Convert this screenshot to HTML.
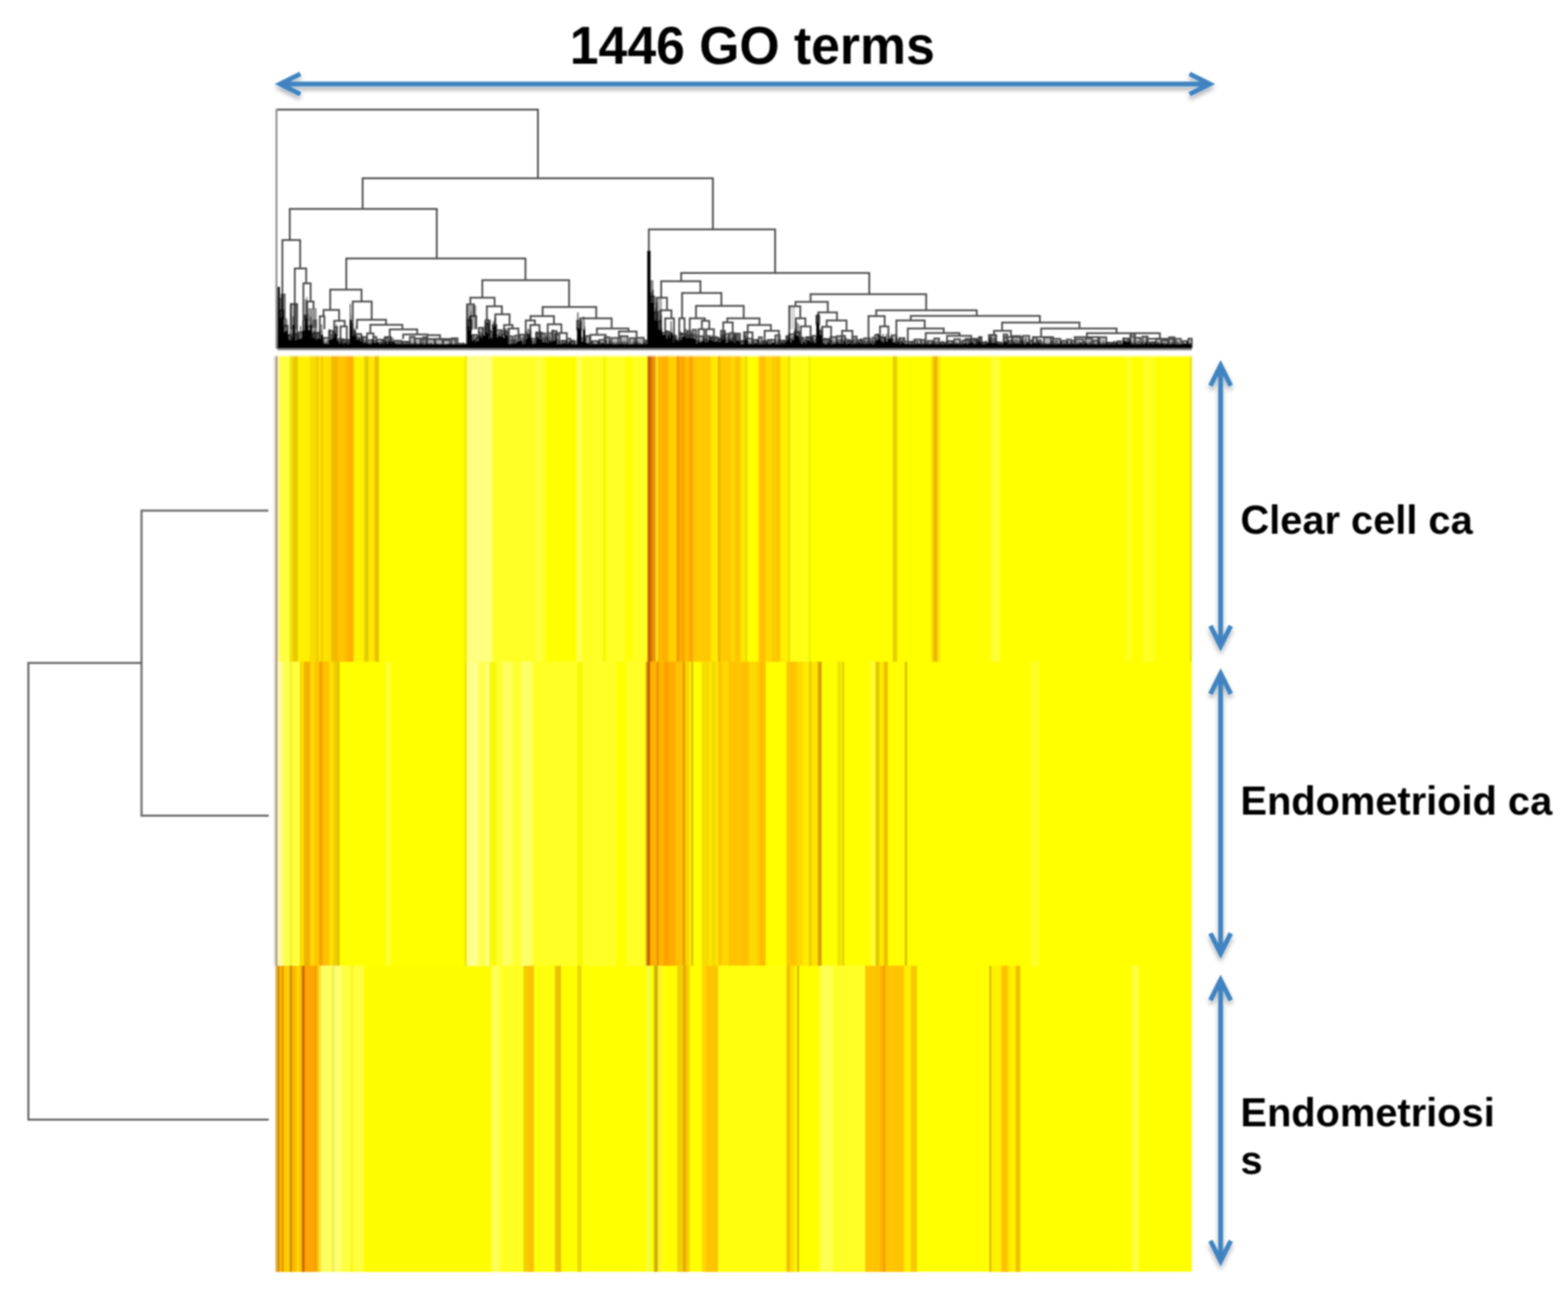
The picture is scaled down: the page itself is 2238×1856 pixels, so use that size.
<!DOCTYPE html>
<html lang="en"><head><meta charset="utf-8"><title>1446 GO terms heatmap</title>
<style>
html,body{margin:0;padding:0;background:#fff;}
body{width:2238px;height:1856px;overflow:hidden;position:relative;font-family:"Liberation Sans",sans-serif;}
svg{position:absolute;left:0;top:0;display:block;}
.t{font-family:"Liberation Sans",sans-serif;font-weight:bold;fill:#000;}
</style></head><body>
<svg width="2238" height="1856" viewBox="0 0 2238 1856">
<defs>
<filter id="sh" x="0" y="0" width="2238" height="1856" filterUnits="userSpaceOnUse">
<feGaussianBlur in="SourceGraphic" stdDeviation="0.9" result="g"/>
<feGaussianBlur in="SourceAlpha" stdDeviation="3.5"/><feOffset dx="0" dy="5"/>
<feComponentTransfer><feFuncA type="linear" slope="0.32"/></feComponentTransfer>
<feMerge><feMergeNode/><feMergeNode in="g"/></feMerge></filter>
<filter id="bl" x="0" y="0" width="2238" height="1856" filterUnits="userSpaceOnUse"><feGaussianBlur stdDeviation="0.9"/></filter>
<filter id="hb" x="380" y="495" width="1335" height="1335" filterUnits="userSpaceOnUse"><feGaussianBlur stdDeviation="0.9 1.3"/></filter>
<filter id="tb" x="0" y="0" width="2238" height="1856" filterUnits="userSpaceOnUse"><feGaussianBlur stdDeviation="0.8"/></filter>
</defs>

<g filter="url(#hb)">
<rect x="395.2" y="507.3" width="1305.8" height="1308.3" fill="#FFFF00"/>
<rect x="393.2" y="507.3" width="3.2" height="437.6" fill="#A89070"/>
<rect x="396.0" y="507.3" width="3.8" height="437.6" fill="#FFF0A0"/>
<rect x="399.4" y="507.3" width="14.6" height="437.6" fill="#FFFF40"/>
<rect x="413.6" y="507.3" width="5.1" height="437.6" fill="#F0E000"/>
<rect x="418.3" y="507.3" width="7.5" height="437.6" fill="#E8C800"/>
<rect x="425.4" y="507.3" width="16.9" height="437.6" fill="#FFF000"/>
<rect x="441.9" y="507.3" width="9.8" height="437.6" fill="#F8DC00"/>
<rect x="451.3" y="507.3" width="4.3" height="437.6" fill="#F0C800"/>
<rect x="455.2" y="507.3" width="2.8" height="437.6" fill="#FFE800"/>
<rect x="457.6" y="507.3" width="3.5" height="437.6" fill="#F5C800"/>
<rect x="460.7" y="507.3" width="12.2" height="437.6" fill="#FFE000"/>
<rect x="472.5" y="507.3" width="7.5" height="437.6" fill="#F0BC00"/>
<rect x="479.6" y="507.3" width="2.7" height="437.6" fill="#F8B000"/>
<rect x="481.9" y="507.3" width="10.6" height="437.6" fill="#FFC400"/>
<rect x="492.1" y="507.3" width="5.2" height="437.6" fill="#FFB800"/>
<rect x="496.9" y="507.3" width="8.2" height="437.6" fill="#FFB000"/>
<rect x="504.7" y="507.3" width="15.3" height="437.6" fill="#FFF400"/>
<rect x="519.6" y="507.3" width="3.6" height="437.6" fill="#E8D000"/>
<rect x="522.8" y="507.3" width="3.5" height="437.6" fill="#E0CC00"/>
<rect x="525.9" y="507.3" width="9.1" height="437.6" fill="#FFE800"/>
<rect x="534.6" y="507.3" width="6.3" height="437.6" fill="#E8C000"/>
<rect x="662.6" y="507.3" width="4.4" height="437.6" fill="#F0F000"/>
<rect x="666.6" y="507.3" width="34.9" height="437.6" fill="#FFFF80"/>
<rect x="701.1" y="507.3" width="4.0" height="437.6" fill="#FFFF50"/>
<rect x="704.7" y="507.3" width="60.1" height="437.6" fill="#FFFF28"/>
<rect x="764.4" y="507.3" width="9.9" height="437.6" fill="#FFFF40"/>
<rect x="773.9" y="507.3" width="5.1" height="437.6" fill="#FFFF28"/>
<rect x="822.6" y="507.3" width="8.2" height="437.6" fill="#FFFF50"/>
<rect x="830.4" y="507.3" width="30.3" height="437.6" fill="#FFFF28"/>
<rect x="860.3" y="507.3" width="5.1" height="437.6" fill="#F8F800"/>
<rect x="865.0" y="507.3" width="27.1" height="437.6" fill="#FFFF28"/>
<rect x="902.7" y="507.3" width="21.6" height="437.6" fill="#FFFF28"/>
<rect x="923.9" y="507.3" width="6.7" height="437.6" fill="#C86400"/>
<rect x="930.2" y="507.3" width="5.9" height="437.6" fill="#E89000"/>
<rect x="935.7" y="507.3" width="3.6" height="437.6" fill="#FFE020"/>
<rect x="938.9" y="507.3" width="6.6" height="437.6" fill="#FFB800"/>
<rect x="945.1" y="507.3" width="9.1" height="437.6" fill="#FFB000"/>
<rect x="953.8" y="507.3" width="12.2" height="437.6" fill="#FFD000"/>
<rect x="965.6" y="507.3" width="4.3" height="437.6" fill="#F09800"/>
<rect x="969.5" y="507.3" width="9.0" height="437.6" fill="#FFA800"/>
<rect x="978.1" y="507.3" width="5.9" height="437.6" fill="#FFC000"/>
<rect x="983.6" y="507.3" width="5.9" height="437.6" fill="#FFA400"/>
<rect x="989.1" y="507.3" width="25.8" height="437.6" fill="#FFC800"/>
<rect x="1014.5" y="507.3" width="10.6" height="437.6" fill="#FFE800"/>
<rect x="1024.7" y="507.3" width="3.8" height="437.6" fill="#E8B000"/>
<rect x="1028.1" y="507.3" width="15.3" height="437.6" fill="#FFC800"/>
<rect x="1043.0" y="507.3" width="5.9" height="437.6" fill="#FFD800"/>
<rect x="1048.5" y="507.3" width="9.0" height="437.6" fill="#FFC400"/>
<rect x="1057.1" y="507.3" width="6.7" height="437.6" fill="#FFE800"/>
<rect x="1063.4" y="507.3" width="3.6" height="437.6" fill="#E8E000"/>
<rect x="1081.5" y="507.3" width="2.8" height="437.6" fill="#FFE000"/>
<rect x="1083.9" y="507.3" width="9.0" height="437.6" fill="#FFC000"/>
<rect x="1092.5" y="507.3" width="9.8" height="437.6" fill="#FFD800"/>
<rect x="1101.9" y="507.3" width="5.9" height="437.6" fill="#F8CC00"/>
<rect x="1107.4" y="507.3" width="6.7" height="437.6" fill="#FFC400"/>
<rect x="1113.7" y="507.3" width="11.4" height="437.6" fill="#FFF000"/>
<rect x="1124.7" y="507.3" width="3.6" height="437.6" fill="#E8E000"/>
<rect x="1127.9" y="507.3" width="25.5" height="437.6" fill="#FFFF18"/>
<rect x="1153.0" y="507.3" width="5.1" height="437.6" fill="#F0F800"/>
<rect x="1274.0" y="507.3" width="6.7" height="437.6" fill="#E8D000"/>
<rect x="1329.4" y="507.3" width="3.6" height="437.6" fill="#F8D800"/>
<rect x="1332.6" y="507.3" width="5.8" height="437.6" fill="#E8B800"/>
<rect x="1338.0" y="507.3" width="3.6" height="437.6" fill="#FFE000"/>
<rect x="1414.3" y="507.3" width="13.0" height="437.6" fill="#FFFF30"/>
<rect x="1607.6" y="507.3" width="6.3" height="437.6" fill="#FFFF28"/>
<rect x="1631.0" y="507.3" width="17.4" height="437.6" fill="#FFFF24"/>
<rect x="1698.0" y="507.3" width="3.4" height="437.6" fill="#E4E418"/>
<rect x="393.2" y="944.6" width="3.2" height="434.4" fill="#A89070"/>
<rect x="396.0" y="944.6" width="7.0" height="434.4" fill="#FFF8B0"/>
<rect x="402.6" y="944.6" width="11.4" height="434.4" fill="#FFFF50"/>
<rect x="413.6" y="944.6" width="3.5" height="434.4" fill="#F0F020"/>
<rect x="416.7" y="944.6" width="11.4" height="434.4" fill="#FFFF40"/>
<rect x="427.7" y="944.6" width="6.7" height="434.4" fill="#F8DC00"/>
<rect x="434.0" y="944.6" width="9.0" height="434.4" fill="#F0B000"/>
<rect x="442.6" y="944.6" width="6.7" height="434.4" fill="#FFD800"/>
<rect x="448.9" y="944.6" width="6.7" height="434.4" fill="#FFC400"/>
<rect x="455.2" y="944.6" width="5.9" height="434.4" fill="#F4A400"/>
<rect x="460.7" y="944.6" width="9.8" height="434.4" fill="#FFC000"/>
<rect x="470.1" y="944.6" width="5.9" height="434.4" fill="#FFE400"/>
<rect x="475.6" y="944.6" width="5.9" height="434.4" fill="#F0CC00"/>
<rect x="481.1" y="944.6" width="3.6" height="434.4" fill="#E0C000"/>
<rect x="550.3" y="944.6" width="6.7" height="434.4" fill="#FFFF30"/>
<rect x="662.6" y="944.6" width="4.4" height="434.4" fill="#F0E800"/>
<rect x="666.6" y="944.6" width="16.1" height="434.4" fill="#FFFF90"/>
<rect x="682.3" y="944.6" width="11.4" height="434.4" fill="#FFFF50"/>
<rect x="693.3" y="944.6" width="5.1" height="434.4" fill="#FFFF80"/>
<rect x="698.0" y="944.6" width="5.1" height="434.4" fill="#F8F820"/>
<rect x="702.7" y="944.6" width="6.3" height="434.4" fill="#F8F800"/>
<rect x="708.6" y="944.6" width="9.1" height="434.4" fill="#FFFF30"/>
<rect x="717.3" y="944.6" width="14.5" height="434.4" fill="#FFFF60"/>
<rect x="731.4" y="944.6" width="13.0" height="434.4" fill="#FFFF30"/>
<rect x="744.0" y="944.6" width="16.1" height="434.4" fill="#FFFF68"/>
<rect x="759.7" y="944.6" width="64.8" height="434.4" fill="#FFFF28"/>
<rect x="824.1" y="944.6" width="8.3" height="434.4" fill="#F8F800"/>
<rect x="832.0" y="944.6" width="47.5" height="434.4" fill="#FFFF28"/>
<rect x="893.3" y="944.6" width="28.7" height="434.4" fill="#FFFF28"/>
<rect x="921.6" y="944.6" width="2.7" height="434.4" fill="#E0A000"/>
<rect x="923.9" y="944.6" width="4.4" height="434.4" fill="#C06000"/>
<rect x="927.9" y="944.6" width="9.8" height="434.4" fill="#FFB000"/>
<rect x="937.3" y="944.6" width="3.5" height="434.4" fill="#E89000"/>
<rect x="940.4" y="944.6" width="7.5" height="434.4" fill="#FFB400"/>
<rect x="947.5" y="944.6" width="7.5" height="434.4" fill="#FFA000"/>
<rect x="954.6" y="944.6" width="9.8" height="434.4" fill="#FFAC00"/>
<rect x="964.0" y="944.6" width="10.6" height="434.4" fill="#FFC000"/>
<rect x="974.2" y="944.6" width="4.3" height="434.4" fill="#E0A000"/>
<rect x="978.1" y="944.6" width="5.2" height="434.4" fill="#FFD000"/>
<rect x="982.9" y="944.6" width="4.3" height="434.4" fill="#FFE800"/>
<rect x="986.8" y="944.6" width="2.7" height="434.4" fill="#D8C000"/>
<rect x="1001.7" y="944.6" width="11.4" height="434.4" fill="#F8DC00"/>
<rect x="1012.7" y="944.6" width="3.6" height="434.4" fill="#FFE800"/>
<rect x="1015.9" y="944.6" width="6.3" height="434.4" fill="#F4D800"/>
<rect x="1021.8" y="944.6" width="3.5" height="434.4" fill="#FFE800"/>
<rect x="1024.9" y="944.6" width="5.9" height="434.4" fill="#FFC400"/>
<rect x="1030.4" y="944.6" width="9.9" height="434.4" fill="#FFD800"/>
<rect x="1039.9" y="944.6" width="17.6" height="434.4" fill="#FFC400"/>
<rect x="1057.1" y="944.6" width="12.2" height="434.4" fill="#FFC000"/>
<rect x="1068.9" y="944.6" width="10.6" height="434.4" fill="#FFD800"/>
<rect x="1079.1" y="944.6" width="5.2" height="434.4" fill="#FFD000"/>
<rect x="1083.9" y="944.6" width="9.0" height="434.4" fill="#FFBC00"/>
<rect x="1122.4" y="944.6" width="15.3" height="434.4" fill="#FFC400"/>
<rect x="1137.3" y="944.6" width="9.0" height="434.4" fill="#FFD800"/>
<rect x="1145.9" y="944.6" width="9.1" height="434.4" fill="#FFEC00"/>
<rect x="1154.6" y="944.6" width="4.3" height="434.4" fill="#E8CC00"/>
<rect x="1158.5" y="944.6" width="9.0" height="434.4" fill="#FFE400"/>
<rect x="1167.1" y="944.6" width="5.9" height="434.4" fill="#D8A000"/>
<rect x="1195.4" y="944.6" width="3.6" height="434.4" fill="#E8E000"/>
<rect x="1198.6" y="944.6" width="3.5" height="434.4" fill="#FFE800"/>
<rect x="1201.7" y="944.6" width="3.6" height="434.4" fill="#E0D800"/>
<rect x="1242.6" y="944.6" width="7.4" height="434.4" fill="#FFFF30"/>
<rect x="1249.6" y="944.6" width="5.9" height="434.4" fill="#E0C800"/>
<rect x="1255.1" y="944.6" width="6.7" height="434.4" fill="#FFE800"/>
<rect x="1261.4" y="944.6" width="5.9" height="434.4" fill="#E8C000"/>
<rect x="1291.3" y="944.6" width="3.5" height="434.4" fill="#D8C000"/>
<rect x="1470.9" y="944.6" width="12.9" height="434.4" fill="#FFFF28"/>
<rect x="393.2" y="1378.7" width="3.5" height="437.2" fill="#E0B040"/>
<rect x="396.3" y="1378.7" width="2.7" height="437.2" fill="#C08800"/>
<rect x="398.6" y="1378.7" width="4.4" height="437.2" fill="#FFB000"/>
<rect x="402.6" y="1378.7" width="2.7" height="437.2" fill="#E09000"/>
<rect x="404.9" y="1378.7" width="9.1" height="437.2" fill="#FFCC00"/>
<rect x="413.6" y="1378.7" width="3.5" height="437.2" fill="#C08800"/>
<rect x="416.7" y="1378.7" width="6.7" height="437.2" fill="#FFB800"/>
<rect x="423.0" y="1378.7" width="5.9" height="437.2" fill="#FFD800"/>
<rect x="428.5" y="1378.7" width="3.1" height="437.2" fill="#F0B000"/>
<rect x="431.2" y="1378.7" width="4.0" height="437.2" fill="#C86400"/>
<rect x="434.8" y="1378.7" width="14.5" height="437.2" fill="#FFA400"/>
<rect x="448.9" y="1378.7" width="3.5" height="437.2" fill="#F0A000"/>
<rect x="452.0" y="1378.7" width="3.6" height="437.2" fill="#F8C000"/>
<rect x="455.2" y="1378.7" width="3.6" height="437.2" fill="#FFE040"/>
<rect x="458.4" y="1378.7" width="15.3" height="437.2" fill="#FFFF60"/>
<rect x="473.3" y="1378.7" width="5.1" height="437.2" fill="#F0F060"/>
<rect x="478.0" y="1378.7" width="9.8" height="437.2" fill="#FFFF70"/>
<rect x="487.4" y="1378.7" width="13.0" height="437.2" fill="#FFFF40"/>
<rect x="500.0" y="1378.7" width="5.1" height="437.2" fill="#F8F820"/>
<rect x="504.7" y="1378.7" width="14.6" height="437.2" fill="#FFFF40"/>
<rect x="518.9" y="1378.7" width="182.6" height="437.2" fill="#FDFD00"/>
<rect x="701.1" y="1378.7" width="13.4" height="437.2" fill="#FFFF50"/>
<rect x="714.1" y="1378.7" width="33.4" height="437.2" fill="#FFFF20"/>
<rect x="747.1" y="1378.7" width="6.7" height="437.2" fill="#F0D000"/>
<rect x="753.4" y="1378.7" width="9.1" height="437.2" fill="#FFC000"/>
<rect x="762.1" y="1378.7" width="30.2" height="437.2" fill="#FFFF10"/>
<rect x="791.9" y="1378.7" width="4.4" height="437.2" fill="#E8C800"/>
<rect x="795.9" y="1378.7" width="5.1" height="437.2" fill="#F0C000"/>
<rect x="824.1" y="1378.7" width="5.9" height="437.2" fill="#E8D800"/>
<rect x="923.1" y="1378.7" width="5.2" height="437.2" fill="#F0FF40"/>
<rect x="933.4" y="1378.7" width="5.9" height="437.2" fill="#C8B000"/>
<rect x="938.9" y="1378.7" width="5.1" height="437.2" fill="#FFF030"/>
<rect x="966.4" y="1378.7" width="9.0" height="437.2" fill="#F0D000"/>
<rect x="975.0" y="1378.7" width="4.3" height="437.2" fill="#E0A800"/>
<rect x="978.9" y="1378.7" width="5.1" height="437.2" fill="#FFC800"/>
<rect x="1001.7" y="1378.7" width="5.9" height="437.2" fill="#FFD800"/>
<rect x="1007.2" y="1378.7" width="18.1" height="437.2" fill="#FFC400"/>
<rect x="1024.9" y="1378.7" width="97.9" height="437.2" fill="#FFFF10"/>
<rect x="1122.4" y="1378.7" width="5.9" height="437.2" fill="#F0C000"/>
<rect x="1127.9" y="1378.7" width="6.6" height="437.2" fill="#FFE000"/>
<rect x="1137.3" y="1378.7" width="3.5" height="437.2" fill="#D8C000"/>
<rect x="1170.3" y="1378.7" width="19.2" height="437.2" fill="#FFFF50"/>
<rect x="1189.1" y="1378.7" width="46.0" height="437.2" fill="#FFFF28"/>
<rect x="1234.7" y="1378.7" width="21.6" height="437.2" fill="#FFC400"/>
<rect x="1255.9" y="1378.7" width="5.1" height="437.2" fill="#FFB000"/>
<rect x="1260.6" y="1378.7" width="3.6" height="437.2" fill="#F0A000"/>
<rect x="1263.8" y="1378.7" width="27.1" height="437.2" fill="#FFC400"/>
<rect x="1290.5" y="1378.7" width="9.8" height="437.2" fill="#FFF000"/>
<rect x="1299.9" y="1378.7" width="9.1" height="437.2" fill="#F8C800"/>
<rect x="1411.9" y="1378.7" width="3.6" height="437.2" fill="#D8C000"/>
<rect x="1415.1" y="1378.7" width="14.5" height="437.2" fill="#FFF000"/>
<rect x="1429.2" y="1378.7" width="9.1" height="437.2" fill="#FFC000"/>
<rect x="1437.9" y="1378.7" width="4.3" height="437.2" fill="#FFE000"/>
<rect x="1441.8" y="1378.7" width="8.2" height="437.2" fill="#FFF000"/>
<rect x="1449.6" y="1378.7" width="6.7" height="437.2" fill="#F0C000"/>
<rect x="1615.4" y="1378.7" width="9.9" height="437.2" fill="#FFFF40"/>
<rect x="390.3" y="509.3" width="3" height="869.4" fill="#E9E3DD"/>
<rect x="393.0" y="508.8" width="2.4" height="869.9" fill="#A89880" fill-opacity="0.75"/>
<rect x="393.2" y="506.8" width="1307.8" height="2.2" fill="#fff" fill-opacity="0.6"/>
</g>
<g filter="url(#bl)">
<path d="M399.4 455.3V442.9H404.7V455.3M404.7 477.3V464.8H410.6V477.3M411.0 487.8V478.7H417.2V487.8M420.4 487.8V477.0H425.6V487.8M425.6 484.7V474.4H431.9V484.7M435.0 458.5V450.1H439.2V458.5M445.5 486.8V475.1H456.1V486.8M461.2 495.1V482.4H469.6V495.1M469.6 486.8V472.3H475.6V486.8M477.0 481.5V466.9H481.1V481.5M481.1 493.0V484.0H486.1V493.0M488.9 493.0V485.0H498.0V493.0M502.1 481.5V472.8H507.0V481.5M508.4 489.9V476.7H515.5V489.9M517.8 495.1V481.2H522.9V495.1M523.4 495.1V485.6H531.4V495.1M532.9 495.1V480.9H537.2V495.1M537.7 495.1V484.8H547.1V495.1M549.2 493.0V481.2H557.7V493.0M562.9 496.2V486.4H573.3V496.2M574.6 496.2V487.9H584.8V496.2M584.9 497.8V481.0H591.8V497.8M592.3 497.8V483.2H600.9V497.8M603.8 497.8V481.3H607.8V497.8M610.0 497.8V484.1H620.0V497.8M621.7 497.8V484.0H631.5V497.8M632.9 497.8V485.7H642.0V497.8M644.8 497.8V482.8H653.1V497.8M653.8 497.8V490.7H661.2V497.8M666.6 472.1V456.7H672.9V472.1M672.9 489.9V478.1H680.6V489.9M683.3 484.7V467.9H688.8V484.7M692.8 477.3V462.0H697.0V477.3M697.0 486.8V473.3H703.2V486.8M703.2 471.0V463.9H708.5V471.0M708.5 485.7V471.3H716.5V485.7M721.0 483.6V473.6H725.2V483.6M725.2 493.0V480.1H731.8V493.0M734.9 493.0V479.2H742.0V493.0M742.2 493.0V477.6H748.1V493.0M750.4 484.7V477.5H754.8V484.7M758.8 495.1V483.6H763.5V495.1M765.0 486.8V475.0H773.4V486.8M773.4 491.0V476.0H777.6V491.0M780.7 491.0V475.6H788.1V491.0M788.1 487.8V472.3H794.4V487.8M794.4 494.1V478.2H798.5V494.1M802.5 494.1V486.4H807.9V494.1M809.2 494.1V483.4H813.9V494.1M814.3 494.1V487.1H819.8V494.1M823.7 472.1V457.8H829.8V472.1M836.3 496.2V479.7H841.4V496.2M845.0 496.2V487.0H853.9V496.2M855.5 496.2V485.1H862.6V496.2M862.7 496.2V481.5H869.9V496.2M872.7 496.2V482.4H882.7V496.2M885.8 496.2V480.0H895.9V496.2M899.0 496.2V482.6H905.9V496.2M908.6 496.2V482.1H918.8V496.2M920.5 496.2V485.9H923.8V496.2M928.5 437.5V422.8H933.7V437.5M933.7 460.6V445.2H939.0V460.6M939.0 472.1V459.0H943.6V472.1M945.2 484.7V474.8H950.2V484.7M950.3 484.7V473.4H955.3V484.7M959.9 491.0V478.5H963.9V491.0M970.4 486.8V476.5H976.7V486.8M976.7 485.7V477.2H981.2V485.7M981.2 485.7V472.7H985.7V485.7M988.7 485.7V470.7H993.4V485.7M993.4 493.0V480.0H1003.9V493.0M1008.1 491.0V479.7H1013.3V491.0M1015.0 491.0V481.7H1024.8V491.0M1026.0 491.0V483.2H1029.0V491.0M1029.0 485.7V472.1H1034.6V485.7M1035.3 491.0V476.6H1040.0V491.0M1041.6 491.0V475.4H1047.9V491.0M1050.0 489.9V476.1H1056.2V489.9M1056.3 495.1V487.3H1062.6V495.1M1062.6 487.8V474.4H1066.8V487.8M1066.8 495.1V483.4H1074.4V495.1M1076.1 495.1V485.4H1081.2V495.1M1083.0 495.1V481.4H1087.5V495.1M1088.5 495.1V487.2H1094.5V495.1M1095.7 495.1V485.2H1106.2V495.1M1106.6 495.1V478.7H1113.0V495.1M1113.4 495.1V486.1H1119.8V495.1M1122.3 487.8V479.8H1127.5V487.8M1127.5 491.0V477.1H1133.8V491.0M1133.8 481.5V473.9H1141.1V481.5M1141.1 492.0V482.4H1147.1V492.0M1150.4 492.0V481.5H1157.9V492.0M1160.0 492.0V479.3H1165.2V492.0M1165.2 463.7V450.6H1169.4V463.7M1169.4 481.5V473.2H1173.6V481.5M1173.6 494.1V484.0H1183.8V494.1M1185.2 494.1V481.2H1193.5V494.1M1194.2 494.1V479.8H1201.3V494.1M1201.4 494.1V479.5H1206.2V494.1M1209.8 494.1V486.3H1214.3V494.1M1216.8 494.1V480.5H1222.8V494.1M1222.9 494.1V485.5H1230.1V494.1M1233.3 495.1V483.0H1242.2V495.1M1245.6 495.1V481.9H1249.0V495.1M1249.0 489.9V478.2H1254.3V489.9M1255.6 489.9V481.8H1263.9V489.9M1273.1 493.6V478.7H1279.7V493.6M1283.5 493.6V482.7H1291.0V493.6M1291.0 496.2V487.9H1301.9V496.2M1304.9 496.2V484.6H1314.0V496.2M1315.1 496.2V485.1H1320.3V496.2M1324.1 496.2V486.6H1330.9V496.2M1333.4 496.2V483.1H1340.4V496.2M1342.2 496.2V488.8H1348.2V496.2M1351.5 496.2V486.8H1360.1V496.2M1362.1 496.2V484.2H1370.2V496.2M1373.8 496.2V486.1H1383.2V496.2M1385.2 493.0V484.4H1393.5V493.0M1397.3 493.0V481.1H1401.0V493.0M1401.0 496.2V488.7H1408.6V496.2M1411.4 493.0V478.2H1421.9V493.0M1421.9 496.2V488.9H1429.1V496.2M1432.4 494.1V477.3H1437.7V494.1M1439.0 494.1V486.4H1444.7V494.1M1445.1 494.1V479.7H1456.1V494.1M1459.8 494.1V479.3H1469.0V494.1M1469.0 495.7V486.0H1474.2V495.7M1474.5 495.7V481.5H1479.7V495.7M1481.7 495.7V485.6H1485.8V495.7M1490.0 496.2V481.9H1500.0V496.2M1502.9 496.2V483.6H1513.3V496.2M1514.8 496.2V486.4H1522.8V496.2M1523.0 496.2V484.6H1528.8V496.2M1529.3 496.2V486.7H1533.8V496.2M1535.3 496.2V484.3H1546.0V496.2M1549.3 496.2V483.3H1558.6V496.2M1559.8 496.2V486.0H1566.6V496.2M1569.1 496.2V481.3H1579.1V496.2M1580.3 496.2V489.1H1585.3V496.2M1587.7 496.2V489.1H1593.3V496.2M1594.5 496.2V487.1H1600.1V496.2M1603.1 493.0V483.2H1611.2V493.0M1613.6 496.2V480.0H1619.1V496.2M1619.5 496.2V482.1H1627.7V496.2M1630.6 496.2V480.5H1638.0V496.2M1640.5 496.2V488.4H1649.4V496.2M1650.1 496.2V483.7H1657.4V496.2M1657.6 496.7V486.2H1666.8V496.7M1668.7 496.7V481.3H1676.4V496.7M1677.6 496.7V483.7H1685.5V496.7M1688.1 496.7V486.9H1694.3V496.7M1696.2 496.7V483.3H1701.1V496.7" fill="#000" fill-opacity="0.3" stroke="#4a4a4a" stroke-width="2.3"/>
<path d="M394.8 156.6V156.6H767.8V254.5M517.6 298.2V254.5H1017.5V327.4M413.6 342.8V298.2H623.4V368.9M403.0 497.6V342.8H428.4V383.2M420.8 497.6V383.2H437.0V404.4M433.0 497.6V404.4H443.3V430.0M438.5 497.6V430.5H447.5V441.0M415.0 497.6V434.0H424.0V497.6M494.2 413.5V368.9H750.0V398.7M471.3 442.6V413.5H516.0V430.5M461.8 452.0V442.6H484.0V458.0M456.5 497.6V451.5H463.0V470.0M477.0 470.0V458.0H492.0V466.0M486.0 497.6V466.0H495.0V497.6M503.5 497.6V430.5H530.5V456.4M509.5 470.0V456.4H551.0V463.8M528.6 476.0V463.8H574.3V470.2M556.3 482.0V470.2H595.5V477.6M575.4 484.0V477.6H610.0V484.0M524.0 497.6V476.0H533.0V497.6M550.0 497.6V481.5H558.0V497.6M600.0 497.6V484.0H650.0V497.6M610.0 484.0V478.5H628.0V486.0M688.4 425.1V400.0H812.2V438.2M671.3 434.6V425.1H705.9V437.2M666.6 497.6V434.6H676.5V451.3M671.3 497.6V451.3H679.7V470.0M694.9 457.6V437.2H716.3V448.7M692.8 497.6V457.6H699.0V497.6M706.9 470.0V448.7H727.3V463.9M719.5 480.0V463.9H731.5V469.1M726.3 484.0V469.1H739.9V484.0M774.5 451.3V438.2H851.0V454.5M757.2 457.6V451.3H790.7V462.9M750.4 497.6V457.6H763.5V464.0M757.0 497.6V464.0H770.0V497.6M781.8 497.6V462.9H801.2V475.4M793.3 497.6V475.4H809.0V497.6M828.0 497.6V454.5H873.0V469.1M852.0 478.0V469.1H897.0V473.3M842.6 497.6V478.0H864.6V497.6M883.4 484.0V473.3H908.6V497.6M926.1 497.6V327.4H1106.3V389.7M972.2 401.6V389.7H1240.7V419.9M943.7 425.1V401.6H999.7V418.3M936.9 497.6V425.1H952.0V443.0M942.6 497.6V443.0H958.3V454.5M949.4 497.6V454.5H962.0V497.6M973.5 454.5V418.3H1029.6V436.7M969.5 497.6V454.5H977.0V497.6M993.4 454.5V436.7H1061.5V454.5M984.5 497.6V454.5H1006.0V458.0M1001.8 470.0V458.0H1012.3V470.0M997.0 497.6V470.0H1005.0V497.6M1008.0 497.6V470.0H1019.0V497.6M1038.0 460.2V454.5H1084.0V463.9M1032.2 497.6V460.2H1045.8V497.6M1067.3 474.4V463.9H1100.3V472.3M1062.0 497.6V474.4H1074.0V497.6M1091.4 497.6V472.3H1111.8V497.6M1156.9 430.9V419.9H1321.9V443.0M1135.4 437.2V430.9H1181.5V446.1M1126.5 497.6V437.2H1142.2V454.5M1135.9 497.6V454.5H1149.5V466.0M1143.0 497.6V466.0H1157.0V497.6M1167.9 497.6V446.1H1194.6V457.6M1179.9 466.5V457.6H1208.2V472.3M1173.6 497.6V466.5H1186.2V497.6M1201.9 497.6V472.3H1216.6V497.6M1250.6 451.3V443.0H1394.1V451.0M1239.6 497.6V451.3H1262.7V466.0M1256.0 497.6V466.0H1268.0V497.6M1299.9 457.6V451.0H1484.2V460.4M1279.4 497.6V457.6H1319.8V469.1M1295.7 497.6V469.1H1347.0V475.4M1321.3 497.6V475.4H1369.5V479.6M1351.7 497.6V479.6H1386.3V483.8M1377.9 497.6V483.8H1395.7V497.6M1430.3 472.3V460.4H1540.8V469.1M1418.8 478.6V472.3H1442.9V481.2M1413.5 497.6V478.6H1421.9V497.6M1433.4 497.6V481.2H1458.6V497.6M1486.0 481.2V469.1H1593.7V475.4M1474.3 497.6V481.2H1503.0V497.6M1551.3 481.2V475.8H1655.5V483.8M1534.0 497.6V481.2H1567.5V497.6M1613.6 497.6V476.5H1620.0V497.6M1636.7 497.6V483.8H1674.4V497.6" fill="none" stroke="#484848" stroke-width="2.5" stroke-linejoin="miter"/>
<path d="M394.6 155.4V497.6" fill="none" stroke="#8c8c8c" stroke-width="2.6"/>
<rect x="400.5" y="419" width="7.3" height="49.0" fill="#000" fill-opacity="0.55"/>
<rect x="414" y="434" width="10.6" height="36.0" fill="#000" fill-opacity="0.3"/>
<rect x="440" y="440" width="12.0" height="28.0" fill="#000" fill-opacity="0.42"/>
<rect x="446.6" y="456" width="6.2" height="30.0" fill="#000" fill-opacity="0.45"/>
<rect x="928" y="400" width="4.7" height="34.0" fill="#000" fill-opacity="0.45"/>
<rect x="666" y="436" width="14.0" height="34.0" fill="#000" fill-opacity="0.35"/>
<rect x="694" y="458" width="6.0" height="22.0" fill="#000" fill-opacity="0.4"/>
<rect x="937" y="426" width="8.0" height="34.0" fill="#000" fill-opacity="0.3"/>
<rect x="1126" y="438" width="9.0" height="32.0" fill="#000" fill-opacity="0.15"/>
<polygon points="395.8,497.6 399.4,497.6 399.4,424.9 401.5,424.9 401.5,497.6 402.0,497.6 402.0,419.5 404.0,419.5 404.0,497.6 404.5,497.6 404.5,421.1 404.6,421.1 404.6,497.6 404.7,497.6 404.7,467.9 406.7,467.9 406.7,497.6 407.2,497.6 407.2,454.0 409.3,454.0 409.3,497.6 409.8,497.6 409.8,456.2 410.7,456.2 410.7,497.6 411.0,497.6 411.0,477.1 413.0,477.1 413.0,497.6 413.5,497.6 413.5,475.5 415.5,475.5 415.5,497.6 416.1,497.6 416.1,481.0 417.0,481.0 417.0,497.6 417.2,497.6 417.2,451.8 419.3,451.8 419.3,497.6 419.8,497.6 419.8,444.6 420.3,444.6 420.3,497.6 420.4,497.6 420.4,474.7 422.4,474.7 422.4,497.6 422.9,497.6 422.9,476.2 425.0,476.2 425.0,497.6 425.5,497.6 425.5,479.1 425.6,479.1 425.6,497.6 425.6,497.6 425.6,475.4 427.7,475.4 427.7,497.6 428.2,497.6 428.2,465.5 430.2,465.5 430.2,497.6 430.7,497.6 430.7,472.3 431.7,472.3 431.7,497.6 431.9,497.6 431.9,456.7 433.9,456.7 433.9,497.6 434.5,497.6 434.5,461.2 434.9,461.2 434.9,497.6 435.0,497.6 435.0,427.2 437.1,427.2 437.1,497.6 437.6,497.6 437.6,424.0 438.9,424.0 438.9,497.6 439.2,497.6 439.2,463.9 441.3,463.9 441.3,497.6 441.8,497.6 441.8,467.4 442.3,467.4 442.3,497.6 442.4,497.6 442.4,452.3 444.4,452.3 444.4,497.6 444.9,497.6 444.9,458.0 445.4,458.0 445.4,497.6 445.5,497.6 445.5,476.6 447.6,476.6 447.6,497.6 448.1,497.6 448.1,471.8 450.1,471.8 450.1,497.6 450.6,497.6 450.6,476.3 452.7,476.3 452.7,497.6 453.2,497.6 453.2,474.1 455.2,474.1 455.2,497.6 455.7,497.6 455.7,471.8 457.6,471.8 457.6,497.6 458.1,497.6 458.1,462.9 460.1,462.9 460.1,497.6 460.6,497.6 460.6,471.9 461.1,471.9 461.1,497.6 461.2,497.6 461.2,487.0 463.3,487.0 463.3,497.6 463.8,497.6 463.8,490.0 465.8,490.0 465.8,497.6 466.3,497.6 466.3,486.6 468.4,486.6 468.4,497.6 468.9,497.6 468.9,487.1 469.5,487.1 469.5,497.6 469.6,497.6 469.6,469.4 471.7,469.4 471.7,497.6 472.2,497.6 472.2,476.4 474.2,476.4 474.2,497.6 474.7,497.6 474.7,473.5 476.5,473.5 476.5,497.6 477.0,497.6 477.0,471.0 479.0,471.0 479.0,497.6 479.5,497.6 479.5,462.3 480.8,462.3 480.8,497.6 481.1,497.6 481.1,484.7 483.2,484.7 483.2,497.6 483.7,497.6 483.7,486.3 485.7,486.3 485.7,497.6 486.2,497.6 486.2,481.9 488.3,481.9 488.3,497.6 488.8,497.6 488.8,483.2 490.8,483.2 490.8,497.6 491.3,497.6 491.3,484.0 493.4,484.0 493.4,497.6 493.9,497.6 493.9,485.6 495.9,485.6 495.9,497.6 496.4,497.6 496.4,486.9 498.4,486.9 498.4,497.6 499.0,497.6 499.0,433.7 501.0,433.7 501.0,497.6 501.5,497.6 501.5,448.9 502.0,448.9 502.0,497.6 502.1,497.6 502.1,461.0 504.1,461.0 504.1,497.6 504.6,497.6 504.6,468.9 506.7,468.9 506.7,497.6 507.2,497.6 507.2,464.9 508.1,464.9 508.1,497.6 508.4,497.6 508.4,479.7 510.4,479.7 510.4,497.6 510.9,497.6 510.9,481.0 513.0,481.0 513.0,497.6 513.5,497.6 513.5,482.4 515.5,482.4 515.5,497.6 516.0,497.6 516.0,477.9 517.5,477.9 517.5,497.6 517.8,497.6 517.8,484.5 519.8,484.5 519.8,497.6 520.4,497.6 520.4,485.4 522.4,485.4 522.4,497.6 522.9,497.6 522.9,488.5 524.9,488.5 524.9,497.6 525.5,497.6 525.5,487.1 527.5,487.1 527.5,497.6 528.0,497.6 528.0,487.7 530.0,487.7 530.0,497.6 530.6,497.6 530.6,483.7 532.6,483.7 532.6,497.6 533.1,497.6 533.1,485.0 535.1,485.0 535.1,497.6 535.7,497.6 535.7,486.1 537.7,486.1 537.7,497.6 538.2,497.6 538.2,487.4 540.2,487.4 540.2,497.6 540.8,497.6 540.8,488.2 542.8,488.2 542.8,497.6 543.3,497.6 543.3,485.7 545.3,485.7 545.3,497.6 545.9,497.6 545.9,484.6 547.9,484.6 547.9,497.6 548.4,497.6 548.4,487.2 549.1,487.2 549.1,497.6 549.2,497.6 549.2,486.5 551.3,486.5 551.3,497.6 551.8,497.6 551.8,481.1 553.8,481.1 553.8,497.6 554.3,497.6 554.3,483.6 556.4,483.6 556.4,497.6 556.9,497.6 556.9,481.7 558.9,481.7 558.9,497.6 559.4,497.6 559.4,482.1 561.5,482.1 561.5,497.6 562.0,497.6 562.0,483.8 562.7,483.8 562.7,497.6 562.9,497.6 562.9,489.0 564.9,489.0 564.9,497.6 565.4,497.6 565.4,486.8 567.4,486.8 567.4,497.6 568.0,497.6 568.0,487.6 570.0,487.6 570.0,497.6 570.5,497.6 570.5,487.5 572.5,487.5 572.5,497.6 573.1,497.6 573.1,489.7 575.1,489.7 575.1,497.6 575.6,497.6 575.6,488.5 577.6,488.5 577.6,497.6 578.2,497.6 578.2,487.4 580.2,487.4 580.2,497.6 580.7,497.6 580.7,486.9 582.7,486.9 582.7,497.6 583.3,497.6 583.3,488.3 584.5,488.3 584.5,497.6 584.9,497.6 584.9,489.0 586.9,489.0 586.9,497.6 587.4,497.6 587.4,489.8 589.4,489.8 589.4,497.6 590.0,497.6 590.0,489.1 592.0,489.1 592.0,497.6 592.5,497.6 592.5,488.1 594.5,488.1 594.5,497.6 595.1,497.6 595.1,490.4 597.1,490.4 597.1,497.6 597.6,497.6 597.6,490.3 599.6,490.3 599.6,497.6 600.2,497.6 600.2,489.6 602.2,489.6 602.2,497.6 602.7,497.6 602.7,489.4 604.7,489.4 604.7,497.6 605.3,497.6 605.3,491.0 607.3,491.0 607.3,497.6 607.8,497.6 607.8,489.6 609.6,489.6 609.6,497.6 610.0,497.6 610.0,490.4 612.0,490.4 612.0,497.6 612.5,497.6 612.5,489.4 614.6,489.4 614.6,497.6 615.1,497.6 615.1,489.6 617.1,489.6 617.1,497.6 617.6,497.6 617.6,492.6 619.7,492.6 619.7,497.6 620.2,497.6 620.2,490.2 622.2,490.2 622.2,497.6 622.7,497.6 622.7,490.6 624.8,490.6 624.8,497.6 625.3,497.6 625.3,491.6 627.3,491.6 627.3,497.6 627.8,497.6 627.8,491.4 629.9,491.4 629.9,497.6 630.4,497.6 630.4,492.7 632.4,492.7 632.4,497.6 632.9,497.6 632.9,491.9 635.0,491.9 635.0,497.6 635.5,497.6 635.5,492.6 637.5,492.6 637.5,497.6 638.0,497.6 638.0,491.0 640.1,491.0 640.1,497.6 640.6,497.6 640.6,490.0 642.6,490.0 642.6,497.6 643.1,497.6 643.1,489.9 645.2,489.9 645.2,497.6 645.7,497.6 645.7,492.0 647.7,492.0 647.7,497.6 648.2,497.6 648.2,491.3 650.3,491.3 650.3,497.6 650.8,497.6 650.8,490.4 652.8,490.4 652.8,497.6 653.3,497.6 653.3,492.2 655.4,492.2 655.4,497.6 655.9,497.6 655.9,491.5 657.9,491.5 657.9,497.6 658.4,497.6 658.4,490.9 660.5,490.9 660.5,497.6 661.0,497.6 661.0,489.0 663.0,489.0 663.0,497.6 663.5,497.6 663.5,490.0 665.6,490.0 665.6,497.6 666.1,497.6 666.1,489.4 666.5,489.4 666.5,497.6 666.6,497.6 666.6,456.7 668.6,456.7 668.6,497.6 669.1,497.6 669.1,451.4 671.2,451.4 671.2,497.6 671.7,497.6 671.7,443.8 672.6,443.8 672.6,497.6 672.9,497.6 672.9,478.8 674.9,478.8 674.9,497.6 675.4,497.6 675.4,477.9 677.4,477.9 677.4,497.6 678.0,497.6 678.0,481.7 680.0,481.7 680.0,497.6 680.5,497.6 680.5,479.4 682.5,479.4 682.5,497.6 683.1,497.6 683.1,477.1 683.3,477.1 683.3,497.6 683.3,497.6 683.3,473.0 685.4,473.0 685.4,497.6 685.9,497.6 685.9,475.0 687.9,475.0 687.9,497.6 688.4,497.6 688.4,467.1 690.5,467.1 690.5,497.6 691.0,497.6 691.0,465.6 692.4,465.6 692.4,497.6 692.8,497.6 692.8,460.2 694.8,460.2 694.8,497.6 695.3,497.6 695.3,453.9 696.6,453.9 696.6,497.6 697.0,497.6 697.0,475.9 699.0,475.9 699.0,497.6 699.5,497.6 699.5,470.3 701.5,470.3 701.5,497.6 702.1,497.6 702.1,476.6 703.0,476.6 703.0,497.6 703.2,497.6 703.2,458.4 705.3,458.4 705.3,497.6 705.8,497.6 705.8,453.5 707.8,453.5 707.8,497.6 708.3,497.6 708.3,445.7 708.4,445.7 708.4,497.6 708.5,497.6 708.5,477.6 710.5,477.6 710.5,497.6 711.0,497.6 711.0,473.9 713.1,473.9 713.1,497.6 713.6,497.6 713.6,471.1 715.6,471.1 715.6,497.6 716.1,497.6 716.1,476.3 718.2,476.3 718.2,497.6 718.7,497.6 718.7,469.0 720.6,469.0 720.6,497.6 721.0,497.6 721.0,468.9 723.1,468.9 723.1,497.6 723.6,497.6 723.6,468.2 724.9,468.2 724.9,497.6 725.2,497.6 725.2,483.6 727.3,483.6 727.3,497.6 727.8,497.6 727.8,483.0 729.8,483.0 729.8,497.6 730.3,497.6 730.3,484.0 732.4,484.0 732.4,497.6 732.9,497.6 732.9,484.6 734.9,484.6 734.9,497.6 735.4,497.6 735.4,484.3 737.5,484.3 737.5,497.6 738.0,497.6 738.0,482.2 740.0,482.2 740.0,497.6 740.5,497.6 740.5,486.8 742.6,486.8 742.6,497.6 743.1,497.6 743.1,482.7 745.1,482.7 745.1,497.6 745.6,497.6 745.6,481.6 747.7,481.6 747.7,497.6 748.2,497.6 748.2,485.4 749.9,485.4 749.9,497.6 750.4,497.6 750.4,472.1 752.4,472.1 752.4,497.6 752.9,497.6 752.9,469.0 755.0,469.0 755.0,497.6 755.5,497.6 755.5,470.5 757.5,470.5 757.5,497.6 758.0,497.6 758.0,473.0 758.6,473.0 758.6,497.6 758.8,497.6 758.8,486.3 760.8,486.3 760.8,497.6 761.3,497.6 761.3,486.5 763.3,486.5 763.3,497.6 763.9,497.6 763.9,487.4 764.8,487.4 764.8,497.6 765.0,497.6 765.0,473.1 767.1,473.1 767.1,497.6 767.6,497.6 767.6,475.6 769.6,475.6 769.6,497.6 770.1,497.6 770.1,472.0 772.2,472.0 772.2,497.6 772.7,497.6 772.7,474.6 773.3,474.6 773.3,497.6 773.4,497.6 773.4,481.2 775.5,481.2 775.5,497.6 776.0,497.6 776.0,482.6 778.0,482.6 778.0,497.6 778.5,497.6 778.5,480.0 780.6,480.0 780.6,497.6 781.1,497.6 781.1,481.4 783.1,481.4 783.1,497.6 783.6,497.6 783.6,478.3 785.7,478.3 785.7,497.6 786.2,497.6 786.2,483.0 787.7,483.0 787.7,497.6 788.1,497.6 788.1,470.6 790.1,470.6 790.1,497.6 790.6,497.6 790.6,475.8 792.7,475.8 792.7,497.6 793.2,497.6 793.2,474.1 794.1,474.1 794.1,497.6 794.4,497.6 794.4,483.2 796.4,483.2 796.4,497.6 796.9,497.6 796.9,485.4 799.0,485.4 799.0,497.6 799.5,497.6 799.5,484.9 801.5,484.9 801.5,497.6 802.0,497.6 802.0,486.5 804.1,486.5 804.1,497.6 804.6,497.6 804.6,486.6 806.6,486.6 806.6,497.6 807.1,497.6 807.1,486.0 809.2,486.0 809.2,497.6 809.7,497.6 809.7,487.3 811.7,487.3 811.7,497.6 812.2,497.6 812.2,488.5 814.3,488.5 814.3,497.6 814.8,497.6 814.8,484.1 816.8,484.1 816.8,497.6 817.3,497.6 817.3,484.6 819.4,484.6 819.4,497.6 819.9,497.6 819.9,486.1 821.9,486.1 821.9,497.6 822.4,497.6 822.4,484.8 823.5,484.8 823.5,497.6 823.7,497.6 823.7,445.9 825.8,445.9 825.8,497.6 826.3,497.6 826.3,460.6 828.3,460.6 828.3,497.6 828.8,497.6 828.8,459.1 829.8,459.1 829.8,497.6 830.0,497.6 830.0,480.9 831.7,480.9 831.7,497.6 832.1,497.6 832.1,452.0 834.1,452.0 834.1,497.6 834.6,497.6 834.6,457.4 835.1,457.4 835.1,497.6 835.2,497.6 835.2,482.8 836.1,482.8 836.1,497.6 836.3,497.6 836.3,489.3 838.3,489.3 838.3,497.6 838.8,497.6 838.8,489.5 840.9,489.5 840.9,497.6 841.4,497.6 841.4,488.4 843.4,488.4 843.4,497.6 843.9,497.6 843.9,487.1 846.0,487.1 846.0,497.6 846.5,497.6 846.5,489.1 848.5,489.1 848.5,497.6 849.0,497.6 849.0,490.7 851.1,490.7 851.1,497.6 851.6,497.6 851.6,488.7 853.6,488.7 853.6,497.6 854.1,497.6 854.1,487.1 856.2,487.1 856.2,497.6 856.7,497.6 856.7,487.9 858.7,487.9 858.7,497.6 859.2,497.6 859.2,489.1 861.3,489.1 861.3,497.6 861.8,497.6 861.8,490.8 863.8,490.8 863.8,497.6 864.3,497.6 864.3,486.2 866.4,486.2 866.4,497.6 866.9,497.6 866.9,490.3 868.9,490.3 868.9,497.6 869.4,497.6 869.4,486.2 871.5,486.2 871.5,497.6 872.0,497.6 872.0,488.3 874.0,488.3 874.0,497.6 874.5,497.6 874.5,488.3 876.6,488.3 876.6,497.6 877.1,497.6 877.1,489.6 879.1,489.6 879.1,497.6 879.6,497.6 879.6,488.3 881.7,488.3 881.7,497.6 882.2,497.6 882.2,489.7 884.2,489.7 884.2,497.6 884.7,497.6 884.7,486.7 886.8,486.7 886.8,497.6 887.3,497.6 887.3,487.5 889.3,487.5 889.3,497.6 889.8,497.6 889.8,487.1 891.9,487.1 891.9,497.6 892.4,497.6 892.4,487.7 894.4,487.7 894.4,497.6 894.9,497.6 894.9,487.8 897.0,487.8 897.0,497.6 897.5,497.6 897.5,491.0 899.5,491.0 899.5,497.6 900.0,497.6 900.0,490.6 902.1,490.6 902.1,497.6 902.6,497.6 902.6,487.0 904.6,487.0 904.6,497.6 905.1,497.6 905.1,488.9 907.2,488.9 907.2,497.6 907.7,497.6 907.7,487.2 909.7,487.2 909.7,497.6 910.2,497.6 910.2,488.1 912.3,488.1 912.3,497.6 912.8,497.6 912.8,489.6 914.8,489.6 914.8,497.6 915.3,497.6 915.3,490.4 917.4,490.4 917.4,497.6 917.9,497.6 917.9,489.0 919.9,489.0 919.9,497.6 920.4,497.6 920.4,488.1 922.5,488.1 922.5,497.6 923.0,497.6 923.0,489.7 923.6,489.7 923.6,497.6 928.5,497.6 928.5,416.8 930.5,416.8 930.5,497.6 931.0,497.6 931.0,413.4 933.1,413.4 933.1,497.6 933.6,497.6 933.6,419.9 933.7,419.9 933.7,497.6 933.7,497.6 933.7,438.5 935.8,438.5 935.8,497.6 936.3,497.6 936.3,431.5 938.3,431.5 938.3,497.6 938.8,497.6 938.8,436.0 938.9,436.0 938.9,497.6 939.0,497.6 939.0,459.6 941.0,459.6 941.0,497.6 941.5,497.6 941.5,456.5 943.5,456.5 943.5,497.6 944.1,497.6 944.1,450.3 945.0,450.3 945.0,497.6 945.2,497.6 945.2,476.0 947.3,476.0 947.3,497.6 947.8,497.6 947.8,475.5 949.8,475.5 949.8,497.6 950.3,497.6 950.3,471.1 952.4,471.1 952.4,497.6 952.9,497.6 952.9,473.5 954.9,473.5 954.9,497.6 955.4,497.6 955.4,472.5 956.5,472.5 956.5,497.6 956.8,497.6 956.8,458.5 958.8,458.5 958.8,497.6 959.3,497.6 959.3,467.9 959.8,467.9 959.8,497.6 959.9,497.6 959.9,478.2 961.9,478.2 961.9,497.6 962.5,497.6 962.5,479.9 964.5,479.9 964.5,497.6 965.0,497.6 965.0,479.1 967.0,479.1 967.0,497.6 967.6,497.6 967.6,482.6 969.6,482.6 969.6,497.6 970.1,497.6 970.1,482.6 970.3,482.6 970.3,497.6 970.4,497.6 970.4,472.7 972.4,472.7 972.4,497.6 972.9,497.6 972.9,474.9 975.0,474.9 975.0,497.6 975.5,497.6 975.5,479.5 976.4,479.5 976.4,497.6 976.7,497.6 976.7,469.3 978.7,469.3 978.7,497.6 979.2,497.6 979.2,470.2 981.3,470.2 981.3,497.6 981.8,497.6 981.8,476.9 983.8,476.9 983.8,497.6 984.3,497.6 984.3,475.4 986.4,475.4 986.4,497.6 986.9,497.6 986.9,475.7 988.9,475.7 988.9,497.6 989.4,497.6 989.4,476.3 991.5,476.3 991.5,497.6 992.0,497.6 992.0,476.1 993.1,476.1 993.1,497.6 993.4,497.6 993.4,485.3 995.5,485.3 995.5,497.6 996.0,497.6 996.0,484.1 998.0,484.1 998.0,497.6 998.5,497.6 998.5,486.4 1000.6,486.4 1000.6,497.6 1001.1,497.6 1001.1,485.6 1003.1,485.6 1003.1,497.6 1003.6,497.6 1003.6,481.2 1005.7,481.2 1005.7,497.6 1006.2,497.6 1006.2,482.7 1007.7,482.7 1007.7,497.6 1008.1,497.6 1008.1,483.6 1010.1,483.6 1010.1,497.6 1010.6,497.6 1010.6,480.5 1012.7,480.5 1012.7,497.6 1013.2,497.6 1013.2,481.1 1015.2,481.1 1015.2,497.6 1015.7,497.6 1015.7,478.0 1017.8,478.0 1017.8,497.6 1018.3,497.6 1018.3,482.0 1020.3,482.0 1020.3,497.6 1020.8,497.6 1020.8,479.4 1022.9,479.4 1022.9,497.6 1023.4,497.6 1023.4,483.7 1025.4,483.7 1025.4,497.6 1025.9,497.6 1025.9,482.5 1028.0,482.5 1028.0,497.6 1028.5,497.6 1028.5,479.2 1028.9,479.2 1028.9,497.6 1029.0,497.6 1029.0,477.8 1031.1,477.8 1031.1,497.6 1031.6,497.6 1031.6,476.7 1033.6,476.7 1033.6,497.6 1034.1,497.6 1034.1,473.5 1035.1,473.5 1035.1,497.6 1035.3,497.6 1035.3,483.6 1037.4,483.6 1037.4,497.6 1037.9,497.6 1037.9,480.7 1039.9,480.7 1039.9,497.6 1040.4,497.6 1040.4,483.2 1042.5,483.2 1042.5,497.6 1043.0,497.6 1043.0,482.7 1045.0,482.7 1045.0,497.6 1045.5,497.6 1045.5,481.7 1047.6,481.7 1047.6,497.6 1048.1,497.6 1048.1,478.9 1049.6,478.9 1049.6,497.6 1050.0,497.6 1050.0,475.9 1052.0,475.9 1052.0,497.6 1052.5,497.6 1052.5,477.1 1054.6,477.1 1054.6,497.6 1055.1,497.6 1055.1,478.6 1056.0,478.6 1056.0,497.6 1056.3,497.6 1056.3,484.8 1058.3,484.8 1058.3,497.6 1058.8,497.6 1058.8,485.2 1060.9,485.2 1060.9,497.6 1061.4,497.6 1061.4,486.7 1062.3,486.7 1062.3,497.6 1062.6,497.6 1062.6,478.2 1064.6,478.2 1064.6,497.6 1065.1,497.6 1065.1,480.7 1066.4,480.7 1066.4,497.6 1066.8,497.6 1066.8,487.1 1068.8,487.1 1068.8,497.6 1069.3,497.6 1069.3,488.9 1071.4,488.9 1071.4,497.6 1071.9,497.6 1071.9,485.5 1073.9,485.5 1073.9,497.6 1074.4,497.6 1074.4,489.9 1076.5,489.9 1076.5,497.6 1077.0,497.6 1077.0,488.6 1079.0,488.6 1079.0,497.6 1079.5,497.6 1079.5,484.0 1081.6,484.0 1081.6,497.6 1082.1,497.6 1082.1,487.1 1084.1,487.1 1084.1,497.6 1084.6,497.6 1084.6,487.4 1086.7,487.4 1086.7,497.6 1087.2,497.6 1087.2,488.9 1089.2,488.9 1089.2,497.6 1089.7,497.6 1089.7,485.4 1091.8,485.4 1091.8,497.6 1092.3,497.6 1092.3,487.1 1094.3,487.1 1094.3,497.6 1094.8,497.6 1094.8,487.6 1096.9,487.6 1096.9,497.6 1097.4,497.6 1097.4,486.1 1099.4,486.1 1099.4,497.6 1099.9,497.6 1099.9,484.2 1102.0,484.2 1102.0,497.6 1102.5,497.6 1102.5,488.8 1104.5,488.8 1104.5,497.6 1105.0,497.6 1105.0,485.2 1107.1,485.2 1107.1,497.6 1107.6,497.6 1107.6,487.2 1109.6,487.2 1109.6,497.6 1110.1,497.6 1110.1,484.4 1112.2,484.4 1112.2,497.6 1112.7,497.6 1112.7,485.2 1114.7,485.2 1114.7,497.6 1115.2,497.6 1115.2,487.6 1117.3,487.6 1117.3,497.6 1117.8,497.6 1117.8,485.8 1119.8,485.8 1119.8,497.6 1120.3,497.6 1120.3,487.0 1121.9,487.0 1121.9,497.6 1122.3,497.6 1122.3,479.7 1124.3,479.7 1124.3,497.6 1124.8,497.6 1124.8,475.1 1126.9,475.1 1126.9,497.6 1127.4,497.6 1127.4,477.8 1127.5,477.8 1127.5,497.6 1127.5,497.6 1127.5,483.0 1129.6,483.0 1129.6,497.6 1130.1,497.6 1130.1,480.7 1132.1,480.7 1132.1,497.6 1132.6,497.6 1132.6,479.8 1133.6,479.8 1133.6,497.6 1133.8,497.6 1133.8,469.5 1135.8,469.5 1135.8,497.6 1136.4,497.6 1136.4,460.2 1138.4,460.2 1138.4,497.6 1138.9,497.6 1138.9,462.4 1140.7,462.4 1140.7,497.6 1141.1,497.6 1141.1,483.8 1143.2,483.8 1143.2,497.6 1143.7,497.6 1143.7,480.3 1145.7,480.3 1145.7,497.6 1146.2,497.6 1146.2,485.8 1148.3,485.8 1148.3,497.6 1148.8,497.6 1148.8,483.8 1150.8,483.8 1150.8,497.6 1151.3,497.6 1151.3,480.8 1153.4,480.8 1153.4,497.6 1153.9,497.6 1153.9,481.0 1155.9,481.0 1155.9,497.6 1156.4,497.6 1156.4,480.0 1158.5,480.0 1158.5,497.6 1159.0,497.6 1159.0,480.6 1161.0,480.6 1161.0,497.6 1161.5,497.6 1161.5,484.4 1163.6,484.4 1163.6,497.6 1164.1,497.6 1164.1,481.8 1165.0,481.8 1165.0,497.6 1165.2,497.6 1165.2,448.7 1167.3,448.7 1167.3,497.6 1167.8,497.6 1167.8,446.7 1169.1,446.7 1169.1,497.6 1169.4,497.6 1169.4,469.6 1171.5,469.6 1171.5,497.6 1172.0,497.6 1172.0,466.7 1173.3,466.7 1173.3,497.6 1173.6,497.6 1173.6,484.2 1175.7,484.2 1175.7,497.6 1176.2,497.6 1176.2,482.5 1178.2,482.5 1178.2,497.6 1178.7,497.6 1178.7,483.8 1180.8,483.8 1180.8,497.6 1181.3,497.6 1181.3,484.2 1183.3,484.2 1183.3,497.6 1183.8,497.6 1183.8,485.6 1185.9,485.6 1185.9,497.6 1186.4,497.6 1186.4,484.3 1188.4,484.3 1188.4,497.6 1188.9,497.6 1188.9,487.5 1191.0,487.5 1191.0,497.6 1191.5,497.6 1191.5,487.5 1193.5,487.5 1193.5,497.6 1194.0,497.6 1194.0,484.1 1196.1,484.1 1196.1,497.6 1196.6,497.6 1196.6,484.8 1198.6,484.8 1198.6,497.6 1199.1,497.6 1199.1,484.0 1201.2,484.0 1201.2,497.6 1201.7,497.6 1201.7,485.5 1203.7,485.5 1203.7,497.6 1204.2,497.6 1204.2,483.6 1206.3,483.6 1206.3,497.6 1206.8,497.6 1206.8,482.0 1208.8,482.0 1208.8,497.6 1209.3,497.6 1209.3,483.4 1211.4,483.4 1211.4,497.6 1211.9,497.6 1211.9,483.8 1213.9,483.8 1213.9,497.6 1214.4,497.6 1214.4,486.5 1216.5,486.5 1216.5,497.6 1217.0,497.6 1217.0,484.2 1219.0,484.2 1219.0,497.6 1219.5,497.6 1219.5,482.9 1221.6,482.9 1221.6,497.6 1222.1,497.6 1222.1,487.2 1224.1,487.2 1224.1,497.6 1224.6,497.6 1224.6,486.7 1226.7,486.7 1226.7,497.6 1227.2,497.6 1227.2,483.3 1229.2,483.3 1229.2,497.6 1229.7,497.6 1229.7,483.0 1231.8,483.0 1231.8,497.6 1232.3,497.6 1232.3,486.9 1233.1,486.9 1233.1,497.6 1233.3,497.6 1233.3,485.8 1235.4,485.8 1235.4,497.6 1235.9,497.6 1235.9,486.3 1237.9,486.3 1237.9,497.6 1238.4,497.6 1238.4,486.1 1240.5,486.1 1240.5,497.6 1241.0,497.6 1241.0,488.2 1243.0,488.2 1243.0,497.6 1243.5,497.6 1243.5,485.1 1245.6,485.1 1245.6,497.6 1246.1,497.6 1246.1,487.6 1248.1,487.6 1248.1,497.6 1248.6,497.6 1248.6,486.5 1249.0,486.5 1249.0,497.6 1249.0,497.6 1249.0,482.0 1251.1,482.0 1251.1,497.6 1251.6,497.6 1251.6,475.7 1253.6,475.7 1253.6,497.6 1254.1,497.6 1254.1,477.8 1256.2,477.8 1256.2,497.6 1256.7,497.6 1256.7,479.6 1258.7,479.6 1258.7,497.6 1259.2,497.6 1259.2,476.9 1261.3,476.9 1261.3,497.6 1261.8,497.6 1261.8,480.4 1263.8,480.4 1263.8,497.6 1264.3,497.6 1264.3,476.8 1266.4,476.8 1266.4,497.6 1266.9,497.6 1266.9,483.6 1268.9,483.6 1268.9,497.6 1269.4,497.6 1269.4,478.4 1269.9,478.4 1269.9,497.6 1270.0,497.6 1270.0,479.6 1272.0,479.6 1272.0,497.6 1272.5,497.6 1272.5,474.9 1273.0,474.9 1273.0,497.6 1273.1,497.6 1273.1,482.9 1275.2,482.9 1275.2,497.6 1275.7,497.6 1275.7,486.6 1277.7,486.6 1277.7,497.6 1278.2,497.6 1278.2,481.5 1280.3,481.5 1280.3,497.6 1280.8,497.6 1280.8,484.3 1282.8,484.3 1282.8,497.6 1283.3,497.6 1283.3,482.5 1285.4,482.5 1285.4,497.6 1285.9,497.6 1285.9,485.2 1287.9,485.2 1287.9,497.6 1288.4,497.6 1288.4,482.9 1290.5,482.9 1290.5,497.6 1291.0,497.6 1291.0,490.5 1293.0,490.5 1293.0,497.6 1293.5,497.6 1293.5,490.6 1295.5,490.6 1295.5,497.6 1296.1,497.6 1296.1,489.0 1298.1,489.0 1298.1,497.6 1298.6,497.6 1298.6,488.8 1300.6,488.8 1300.6,497.6 1301.2,497.6 1301.2,486.5 1303.2,486.5 1303.2,497.6 1303.7,497.6 1303.7,486.6 1305.7,486.6 1305.7,497.6 1306.3,497.6 1306.3,485.5 1308.3,485.5 1308.3,497.6 1308.8,497.6 1308.8,486.5 1310.8,486.5 1310.8,497.6 1311.4,497.6 1311.4,490.7 1313.4,490.7 1313.4,497.6 1313.9,497.6 1313.9,490.5 1315.9,490.5 1315.9,497.6 1316.5,497.6 1316.5,488.8 1318.5,488.8 1318.5,497.6 1319.0,497.6 1319.0,486.9 1321.0,486.9 1321.0,497.6 1321.6,497.6 1321.6,489.9 1323.6,489.9 1323.6,497.6 1324.1,497.6 1324.1,488.5 1326.1,488.5 1326.1,497.6 1326.7,497.6 1326.7,489.2 1328.7,489.2 1328.7,497.6 1329.2,497.6 1329.2,488.1 1331.2,488.1 1331.2,497.6 1331.8,497.6 1331.8,486.9 1333.8,486.9 1333.8,497.6 1334.3,497.6 1334.3,488.1 1336.3,488.1 1336.3,497.6 1336.9,497.6 1336.9,486.7 1338.9,486.7 1338.9,497.6 1339.4,497.6 1339.4,490.1 1341.4,490.1 1341.4,497.6 1342.0,497.6 1342.0,488.8 1344.0,488.8 1344.0,497.6 1344.5,497.6 1344.5,486.2 1346.5,486.2 1346.5,497.6 1347.1,497.6 1347.1,489.3 1349.1,489.3 1349.1,497.6 1349.6,497.6 1349.6,487.7 1351.6,487.7 1351.6,497.6 1352.2,497.6 1352.2,487.1 1354.2,487.1 1354.2,497.6 1354.7,497.6 1354.7,489.4 1356.7,489.4 1356.7,497.6 1357.3,497.6 1357.3,487.1 1359.3,487.1 1359.3,497.6 1359.8,497.6 1359.8,490.0 1361.8,490.0 1361.8,497.6 1362.4,497.6 1362.4,488.6 1364.4,488.6 1364.4,497.6 1364.9,497.6 1364.9,490.3 1366.9,490.3 1366.9,497.6 1367.5,497.6 1367.5,489.6 1369.5,489.6 1369.5,497.6 1370.0,497.6 1370.0,486.6 1372.0,486.6 1372.0,497.6 1372.6,497.6 1372.6,487.3 1374.6,487.3 1374.6,497.6 1375.1,497.6 1375.1,490.0 1377.1,490.0 1377.1,497.6 1377.7,497.6 1377.7,488.7 1379.7,488.7 1379.7,497.6 1380.2,497.6 1380.2,487.8 1382.2,487.8 1382.2,497.6 1382.8,497.6 1382.8,490.6 1384.7,490.6 1384.7,497.6 1385.2,497.6 1385.2,484.3 1387.3,484.3 1387.3,497.6 1387.8,497.6 1387.8,485.0 1389.8,485.0 1389.8,497.6 1390.3,497.6 1390.3,483.7 1392.4,483.7 1392.4,497.6 1392.9,497.6 1392.9,484.1 1394.9,484.1 1394.9,497.6 1395.4,497.6 1395.4,486.5 1397.5,486.5 1397.5,497.6 1398.0,497.6 1398.0,480.8 1400.0,480.8 1400.0,497.6 1400.5,497.6 1400.5,485.0 1400.9,485.0 1400.9,497.6 1401.0,497.6 1401.0,487.8 1403.0,487.8 1403.0,497.6 1403.5,497.6 1403.5,488.2 1405.5,488.2 1405.5,497.6 1406.0,497.6 1406.0,486.5 1408.1,486.5 1408.1,497.6 1408.6,497.6 1408.6,489.2 1410.6,489.2 1410.6,497.6 1411.1,497.6 1411.1,489.0 1411.4,489.0 1411.4,497.6 1411.4,497.6 1411.4,483.0 1413.5,483.0 1413.5,497.6 1414.0,497.6 1414.0,480.8 1416.0,480.8 1416.0,497.6 1416.5,497.6 1416.5,482.8 1418.6,482.8 1418.6,497.6 1419.1,497.6 1419.1,481.2 1421.1,481.2 1421.1,497.6 1421.6,497.6 1421.6,484.7 1421.8,484.7 1421.8,497.6 1421.9,497.6 1421.9,487.1 1423.9,487.1 1423.9,497.6 1424.5,497.6 1424.5,487.5 1426.5,487.5 1426.5,497.6 1427.0,497.6 1427.0,489.2 1429.0,489.2 1429.0,497.6 1429.6,497.6 1429.6,489.0 1431.6,489.0 1431.6,497.6 1432.1,497.6 1432.1,488.8 1432.3,488.8 1432.3,497.6 1432.4,497.6 1432.4,486.8 1434.4,486.8 1434.4,497.6 1434.9,497.6 1434.9,487.5 1437.0,487.5 1437.0,497.6 1437.5,497.6 1437.5,482.3 1439.5,482.3 1439.5,497.6 1440.0,497.6 1440.0,488.0 1442.1,488.0 1442.1,497.6 1442.6,497.6 1442.6,482.4 1444.6,482.4 1444.6,497.6 1445.1,497.6 1445.1,485.9 1447.2,485.9 1447.2,497.6 1447.7,497.6 1447.7,485.1 1449.7,485.1 1449.7,497.6 1450.2,497.6 1450.2,484.7 1452.3,484.7 1452.3,497.6 1452.8,497.6 1452.8,486.8 1454.8,486.8 1454.8,497.6 1455.3,497.6 1455.3,485.5 1457.4,485.5 1457.4,497.6 1457.9,497.6 1457.9,485.0 1459.9,485.0 1459.9,497.6 1460.4,497.6 1460.4,486.7 1462.5,486.7 1462.5,497.6 1463.0,497.6 1463.0,482.5 1465.0,482.5 1465.0,497.6 1465.5,497.6 1465.5,488.2 1467.6,488.2 1467.6,497.6 1468.1,497.6 1468.1,484.9 1468.9,484.9 1468.9,497.6 1469.0,497.6 1469.0,488.0 1471.1,488.0 1471.1,497.6 1471.6,497.6 1471.6,485.8 1473.6,485.8 1473.6,497.6 1474.1,497.6 1474.1,488.2 1476.2,488.2 1476.2,497.6 1476.7,497.6 1476.7,488.2 1478.7,488.2 1478.7,497.6 1479.2,497.6 1479.2,487.8 1481.3,487.8 1481.3,497.6 1481.8,497.6 1481.8,486.9 1483.8,486.9 1483.8,497.6 1484.3,497.6 1484.3,488.4 1486.4,488.4 1486.4,497.6 1486.9,497.6 1486.9,487.8 1488.9,487.8 1488.9,497.6 1489.4,497.6 1489.4,486.2 1489.9,486.2 1489.9,497.6 1490.0,497.6 1490.0,489.7 1492.0,489.7 1492.0,497.6 1492.5,497.6 1492.5,490.1 1494.6,490.1 1494.6,497.6 1495.1,497.6 1495.1,490.2 1497.1,490.2 1497.1,497.6 1497.6,497.6 1497.6,489.1 1499.7,489.1 1499.7,497.6 1500.2,497.6 1500.2,486.5 1502.2,486.5 1502.2,497.6 1502.7,497.6 1502.7,488.6 1504.8,488.6 1504.8,497.6 1505.3,497.6 1505.3,486.2 1507.3,486.2 1507.3,497.6 1507.8,497.6 1507.8,485.3 1509.9,485.3 1509.9,497.6 1510.4,497.6 1510.4,489.9 1512.4,489.9 1512.4,497.6 1512.9,497.6 1512.9,488.1 1515.0,488.1 1515.0,497.6 1515.5,497.6 1515.5,487.7 1517.5,487.7 1517.5,497.6 1518.0,497.6 1518.0,488.5 1520.1,488.5 1520.1,497.6 1520.6,497.6 1520.6,487.5 1522.6,487.5 1522.6,497.6 1523.1,497.6 1523.1,487.1 1525.2,487.1 1525.2,497.6 1525.7,497.6 1525.7,489.9 1527.7,489.9 1527.7,497.6 1528.2,497.6 1528.2,488.1 1530.3,488.1 1530.3,497.6 1530.8,497.6 1530.8,489.3 1532.8,489.3 1532.8,497.6 1533.3,497.6 1533.3,490.9 1535.4,490.9 1535.4,497.6 1535.9,497.6 1535.9,489.8 1537.9,489.8 1537.9,497.6 1538.4,497.6 1538.4,487.4 1540.5,487.4 1540.5,497.6 1541.0,497.6 1541.0,488.1 1543.0,488.1 1543.0,497.6 1543.5,497.6 1543.5,488.2 1545.6,488.2 1545.6,497.6 1546.1,497.6 1546.1,486.8 1548.1,486.8 1548.1,497.6 1548.6,497.6 1548.6,488.2 1550.7,488.2 1550.7,497.6 1551.2,497.6 1551.2,489.8 1553.2,489.8 1553.2,497.6 1553.7,497.6 1553.7,487.2 1555.8,487.2 1555.8,497.6 1556.3,497.6 1556.3,487.9 1558.3,487.9 1558.3,497.6 1558.8,497.6 1558.8,490.8 1560.9,490.8 1560.9,497.6 1561.4,497.6 1561.4,487.3 1563.4,487.3 1563.4,497.6 1563.9,497.6 1563.9,491.2 1566.0,491.2 1566.0,497.6 1566.5,497.6 1566.5,487.2 1568.5,487.2 1568.5,497.6 1569.0,497.6 1569.0,488.4 1571.1,488.4 1571.1,497.6 1571.6,497.6 1571.6,489.1 1573.6,489.1 1573.6,497.6 1574.1,497.6 1574.1,487.2 1576.2,487.2 1576.2,497.6 1576.7,497.6 1576.7,488.7 1578.7,488.7 1578.7,497.6 1579.2,497.6 1579.2,488.0 1581.3,488.0 1581.3,497.6 1581.8,497.6 1581.8,489.1 1583.8,489.1 1583.8,497.6 1584.3,497.6 1584.3,490.9 1586.4,490.9 1586.4,497.6 1586.9,497.6 1586.9,487.9 1588.9,487.9 1588.9,497.6 1589.4,497.6 1589.4,486.3 1591.5,486.3 1591.5,497.6 1592.0,497.6 1592.0,489.2 1594.0,489.2 1594.0,497.6 1594.5,497.6 1594.5,488.3 1596.6,488.3 1596.6,497.6 1597.1,497.6 1597.1,488.2 1599.1,488.2 1599.1,497.6 1599.6,497.6 1599.6,490.4 1601.7,490.4 1601.7,497.6 1602.2,497.6 1602.2,487.4 1603.0,487.4 1603.0,497.6 1603.1,497.6 1603.1,481.7 1605.2,481.7 1605.2,497.6 1605.7,497.6 1605.7,486.3 1607.7,486.3 1607.7,497.6 1608.2,497.6 1608.2,483.6 1610.3,483.6 1610.3,497.6 1610.8,497.6 1610.8,486.4 1612.8,486.4 1612.8,497.6 1613.3,497.6 1613.3,485.7 1613.6,485.7 1613.6,497.6 1613.6,497.6 1613.6,488.1 1615.7,488.1 1615.7,497.6 1616.2,497.6 1616.2,488.7 1618.2,488.7 1618.2,497.6 1618.7,497.6 1618.7,489.5 1620.8,489.5 1620.8,497.6 1621.3,497.6 1621.3,487.8 1623.3,487.8 1623.3,497.6 1623.8,497.6 1623.8,486.8 1625.9,486.8 1625.9,497.6 1626.4,497.6 1626.4,490.1 1628.4,490.1 1628.4,497.6 1628.9,497.6 1628.9,488.2 1631.0,488.2 1631.0,497.6 1631.5,497.6 1631.5,486.8 1633.5,486.8 1633.5,497.6 1634.0,497.6 1634.0,488.0 1636.1,488.0 1636.1,497.6 1636.6,497.6 1636.6,486.3 1638.6,486.3 1638.6,497.6 1639.1,497.6 1639.1,490.1 1641.2,490.1 1641.2,497.6 1641.7,497.6 1641.7,489.5 1643.7,489.5 1643.7,497.6 1644.2,497.6 1644.2,487.7 1646.3,487.7 1646.3,497.6 1646.8,497.6 1646.8,487.4 1648.8,487.4 1648.8,497.6 1649.3,497.6 1649.3,487.9 1651.4,487.9 1651.4,497.6 1651.9,497.6 1651.9,487.9 1653.9,487.9 1653.9,497.6 1654.4,497.6 1654.4,489.1 1656.5,489.1 1656.5,497.6 1657.0,497.6 1657.0,486.9 1657.5,486.9 1657.5,497.6 1657.6,497.6 1657.6,488.9 1659.7,488.9 1659.7,497.6 1660.2,497.6 1660.2,488.9 1662.2,488.9 1662.2,497.6 1662.7,497.6 1662.7,489.1 1664.8,489.1 1664.8,497.6 1665.3,497.6 1665.3,489.8 1667.3,489.8 1667.3,497.6 1667.8,497.6 1667.8,491.5 1669.9,491.5 1669.9,497.6 1670.4,497.6 1670.4,488.6 1672.4,488.6 1672.4,497.6 1672.9,497.6 1672.9,489.2 1675.0,489.2 1675.0,497.6 1675.5,497.6 1675.5,490.6 1677.5,490.6 1677.5,497.6 1678.0,497.6 1678.0,486.8 1680.1,486.8 1680.1,497.6 1680.6,497.6 1680.6,487.8 1682.6,487.8 1682.6,497.6 1683.1,497.6 1683.1,490.4 1685.2,490.4 1685.2,497.6 1685.7,497.6 1685.7,491.2 1687.7,491.2 1687.7,497.6 1688.2,497.6 1688.2,489.5 1690.3,489.5 1690.3,497.6 1690.8,497.6 1690.8,490.1 1692.8,490.1 1692.8,497.6 1693.3,497.6 1693.3,486.4 1695.4,486.4 1695.4,497.6 1695.9,497.6 1695.9,490.3 1697.9,490.3 1697.9,497.6 1698.4,497.6 1698.4,489.4 1700.5,489.4 1700.5,497.6 1701.0,497.6 1701.0,490.2 1701.0,490.2 1701.0,497.6 1701.0,497.6" fill="#000" fill-opacity="0.55"/><polygon points="395.8,498.1 396.0,409.4 398.5,409.4 398.5,409.4 399.4,409.4 399.4,454.4 402.0,454.4 402.0,451.6 404.5,451.6 404.5,451.9 404.7,451.9 404.7,474.4 407.2,474.4 407.2,471.9 409.8,471.9 409.8,473.9 411.0,473.9 411.0,485.1 413.5,485.1 413.5,486.1 416.1,486.1 416.1,481.9 417.2,481.9 417.2,464.3 419.8,464.3 419.8,463.0 420.4,463.0 420.4,486.2 422.9,486.2 422.9,485.5 425.5,485.5 425.5,481.6 425.6,481.6 425.6,484.1 428.2,484.1 428.2,484.0 430.7,484.0 430.7,482.1 431.9,482.1 431.9,472.4 434.5,472.4 434.5,469.7 435.0,469.7 435.0,452.1 437.6,452.1 437.6,455.1 439.2,455.1 439.2,471.2 441.8,471.2 441.8,472.0 442.4,472.0 442.4,463.9 444.9,463.9 444.9,462.6 445.5,462.6 445.5,483.0 448.1,483.0 448.1,482.9 450.6,482.9 450.6,485.3 453.2,485.3 453.2,483.4 455.7,483.4 455.7,484.1 458.1,484.1 458.1,478.0 460.6,478.0 460.6,479.0 461.2,479.0 461.2,491.4 463.8,491.4 463.8,490.3 466.3,490.3 466.3,491.6 468.9,491.6 468.9,491.6 469.6,491.6 469.6,485.3 472.2,485.3 472.2,484.5 474.7,484.5 474.7,482.2 477.0,482.2 477.0,476.4 479.5,476.4 479.5,476.8 481.1,476.8 481.1,487.0 483.7,487.0 483.7,491.1 486.2,491.1 486.2,488.9 488.8,488.9 488.8,491.6 491.3,491.6 491.3,488.9 493.9,488.9 493.9,491.6 496.4,491.6 496.4,491.6 499.0,491.6 499.0,456.2 501.5,456.2 501.5,457.4 502.1,457.4 502.1,480.5 504.6,480.5 504.6,477.8 507.2,477.8 507.2,480.9 508.4,480.9 508.4,485.8 510.9,485.8 510.9,483.8 513.5,483.8 513.5,487.2 516.0,487.2 516.0,488.1 517.8,488.1 517.8,490.3 520.4,490.3 520.4,489.2 522.9,489.2 522.9,490.6 525.5,490.6 525.5,491.6 528.0,491.6 528.0,491.6 530.6,491.6 530.6,489.3 533.1,489.3 533.1,490.1 535.7,490.1 535.7,489.2 538.2,489.2 538.2,489.0 540.8,489.0 540.8,491.6 543.3,491.6 543.3,489.7 545.9,489.7 545.9,491.6 548.4,491.6 548.4,491.3 549.2,491.3 549.2,487.7 551.8,487.7 551.8,490.9 554.3,490.9 554.3,487.3 556.9,487.3 556.9,490.4 559.4,490.4 559.4,487.2 562.0,487.2 562.0,489.1 562.9,489.1 562.9,491.0 565.4,491.0 565.4,491.3 568.0,491.3 568.0,491.6 570.5,491.6 570.5,491.6 573.1,491.6 573.1,491.5 575.6,491.5 575.6,491.6 578.2,491.6 578.2,491.0 580.7,491.0 580.7,491.6 583.3,491.6 583.3,491.6 584.9,491.6 584.9,491.6 587.4,491.6 587.4,491.6 590.0,491.6 590.0,491.6 592.5,491.6 592.5,491.6 595.1,491.6 595.1,491.6 597.6,491.6 597.6,491.6 600.2,491.6 600.2,491.6 602.7,491.6 602.7,491.6 605.3,491.6 605.3,491.6 607.8,491.6 607.8,491.6 610.0,491.6 610.0,491.6 612.5,491.6 612.5,491.6 615.1,491.6 615.1,491.6 617.6,491.6 617.6,491.6 620.2,491.6 620.2,491.6 622.7,491.6 622.7,491.6 625.3,491.6 625.3,491.6 627.8,491.6 627.8,491.6 630.4,491.6 630.4,491.6 632.9,491.6 632.9,491.6 635.5,491.6 635.5,491.6 638.0,491.6 638.0,491.6 640.6,491.6 640.6,491.6 643.1,491.6 643.1,491.6 645.7,491.6 645.7,491.6 648.2,491.6 648.2,491.6 650.8,491.6 650.8,491.6 653.3,491.6 653.3,491.6 655.9,491.6 655.9,491.6 658.4,491.6 658.4,491.6 661.0,491.6 661.0,491.6 663.5,491.6 663.5,491.6 666.1,491.6 666.1,491.6 666.6,491.6 666.6,465.8 669.1,465.8 669.1,471.4 671.7,471.4 671.7,467.0 672.9,467.0 672.9,487.6 675.4,487.6 675.4,484.9 678.0,484.9 678.0,488.3 680.5,488.3 680.5,487.0 683.1,487.0 683.1,485.2 683.3,485.2 683.3,479.2 685.9,479.2 685.9,482.5 688.4,482.5 688.4,478.6 691.0,478.6 691.0,479.5 692.8,479.5 692.8,474.2 695.3,474.2 695.3,475.9 697.0,475.9 697.0,483.9 699.5,483.9 699.5,481.9 702.1,481.9 702.1,485.8 703.2,485.8 703.2,465.8 705.8,465.8 705.8,464.6 708.3,464.6 708.3,466.2 708.5,466.2 708.5,481.9 711.0,481.9 711.0,479.6 713.6,479.6 713.6,480.3 716.1,480.3 716.1,481.4 718.7,481.4 718.7,482.6 721.0,482.6 721.0,477.9 723.6,477.9 723.6,479.3 725.2,479.3 725.2,491.6 727.8,491.6 727.8,491.6 730.3,491.6 730.3,490.5 732.9,490.5 732.9,490.7 735.4,490.7 735.4,490.1 738.0,490.1 738.0,487.4 740.5,487.4 740.5,486.8 743.1,486.8 743.1,486.7 745.6,486.7 745.6,491.6 748.2,491.6 748.2,490.8 750.4,490.8 750.4,483.9 752.9,483.9 752.9,478.3 755.5,478.3 755.5,482.0 758.0,482.0 758.0,481.1 758.8,481.1 758.8,491.6 761.3,491.6 761.3,490.6 763.9,490.6 763.9,491.6 765.0,491.6 765.0,480.7 767.6,480.7 767.6,483.5 770.1,483.5 770.1,484.7 772.7,484.7 772.7,485.7 773.4,485.7 773.4,488.9 776.0,488.9 776.0,488.7 778.5,488.7 778.5,489.2 781.1,489.2 781.1,489.9 783.6,489.9 783.6,486.6 786.2,486.6 786.2,488.6 788.1,488.6 788.1,486.7 790.6,486.7 790.6,486.5 793.2,486.5 793.2,483.8 794.4,483.8 794.4,491.6 796.9,491.6 796.9,491.6 799.5,491.6 799.5,491.0 802.0,491.0 802.0,491.3 804.6,491.3 804.6,489.9 807.1,489.9 807.1,491.1 809.7,491.1 809.7,491.2 812.2,491.2 812.2,488.1 814.8,488.1 814.8,491.4 817.3,491.4 817.3,491.6 819.9,491.6 819.9,491.6 822.4,491.6 822.4,491.6 823.7,491.6 823.7,467.9 826.3,467.9 826.3,470.0 828.8,470.0 828.8,469.1 830.0,469.1 830.0,488.1 832.1,488.1 832.1,470.6 834.6,470.6 834.6,466.1 835.2,466.1 835.2,490.0 836.3,490.0 836.3,489.9 838.8,489.9 838.8,491.6 841.4,491.6 841.4,491.6 843.9,491.6 843.9,491.1 846.5,491.1 846.5,491.6 849.0,491.6 849.0,491.6 851.6,491.6 851.6,491.6 854.1,491.6 854.1,491.6 856.7,491.6 856.7,491.2 859.2,491.2 859.2,489.8 861.8,489.8 861.8,491.5 864.3,491.5 864.3,491.6 866.9,491.6 866.9,490.9 869.4,490.9 869.4,490.7 872.0,490.7 872.0,491.6 874.5,491.6 874.5,491.6 877.1,491.6 877.1,491.6 879.6,491.6 879.6,491.6 882.2,491.6 882.2,491.6 884.7,491.6 884.7,491.6 887.3,491.6 887.3,490.9 889.8,490.9 889.8,491.6 892.4,491.6 892.4,491.6 894.9,491.6 894.9,491.6 897.5,491.6 897.5,491.6 900.0,491.6 900.0,491.6 902.6,491.6 902.6,491.6 905.1,491.6 905.1,491.6 907.7,491.6 907.7,490.5 910.2,490.5 910.2,491.6 912.8,491.6 912.8,491.6 915.3,491.6 915.3,491.6 917.9,491.6 917.9,491.6 920.4,491.6 920.4,491.6 923.0,491.6 923.0,491.3 923.8,491.3 923.8,358.1 926.3,358.1 926.3,358.1 928.5,358.1 928.5,432.7 931.0,432.7 931.0,432.3 933.6,432.3 933.6,433.5 933.7,433.5 933.7,457.8 936.3,457.8 936.3,457.0 938.8,457.0 938.8,456.0 939.0,456.0 939.0,470.6 941.5,470.6 941.5,471.5 944.1,471.5 944.1,468.3 945.2,468.3 945.2,478.6 947.8,478.6 947.8,478.4 950.3,478.4 950.3,483.4 952.9,483.4 952.9,478.4 955.4,478.4 955.4,482.4 956.8,482.4 956.8,475.3 959.3,475.3 959.3,473.7 959.9,473.7 959.9,489.2 962.5,489.2 962.5,484.6 965.0,484.6 965.0,485.3 967.6,485.3 967.6,487.2 970.1,487.2 970.1,484.6 970.4,484.6 970.4,485.2 972.9,485.2 972.9,481.7 975.5,481.7 975.5,481.1 976.7,481.1 976.7,479.5 979.2,479.5 979.2,483.0 981.8,483.0 981.8,481.9 984.3,481.9 984.3,483.0 986.9,483.0 986.9,483.1 989.4,483.1 989.4,484.1 992.0,484.1 992.0,485.0 993.4,485.0 993.4,490.7 996.0,490.7 996.0,487.7 998.5,487.7 998.5,489.4 1001.1,489.4 1001.1,487.6 1003.6,487.6 1003.6,486.6 1006.2,486.6 1006.2,489.4 1008.1,489.4 1008.1,488.7 1010.6,488.7 1010.6,485.5 1013.2,485.5 1013.2,486.1 1015.7,486.1 1015.7,486.5 1018.3,486.5 1018.3,488.6 1020.8,488.6 1020.8,487.6 1023.4,487.6 1023.4,488.1 1025.9,488.1 1025.9,489.0 1028.5,489.0 1028.5,486.8 1029.0,486.8 1029.0,484.0 1031.6,484.0 1031.6,484.7 1034.1,484.7 1034.1,479.7 1035.3,479.7 1035.3,490.0 1037.9,490.0 1037.9,488.8 1040.4,488.8 1040.4,485.2 1043.0,485.2 1043.0,487.2 1045.5,487.2 1045.5,488.2 1048.1,488.2 1048.1,489.9 1050.0,489.9 1050.0,485.7 1052.5,485.7 1052.5,486.8 1055.1,486.8 1055.1,488.7 1056.3,488.7 1056.3,491.6 1058.8,491.6 1058.8,491.6 1061.4,491.6 1061.4,491.4 1062.6,491.4 1062.6,485.2 1065.1,485.2 1065.1,482.5 1066.8,482.5 1066.8,491.6 1069.3,491.6 1069.3,491.6 1071.9,491.6 1071.9,491.6 1074.4,491.6 1074.4,491.6 1077.0,491.6 1077.0,489.9 1079.5,489.9 1079.5,491.6 1082.1,491.6 1082.1,491.6 1084.6,491.6 1084.6,491.6 1087.2,491.6 1087.2,491.6 1089.7,491.6 1089.7,491.6 1092.3,491.6 1092.3,490.6 1094.8,490.6 1094.8,491.6 1097.4,491.6 1097.4,491.6 1099.9,491.6 1099.9,490.7 1102.5,490.7 1102.5,489.1 1105.0,489.1 1105.0,491.3 1107.6,491.3 1107.6,491.6 1110.1,491.6 1110.1,491.6 1112.7,491.6 1112.7,491.6 1115.2,491.6 1115.2,488.8 1117.8,488.8 1117.8,491.6 1120.3,491.6 1120.3,489.0 1122.3,489.0 1122.3,486.1 1124.8,486.1 1124.8,482.3 1127.4,482.3 1127.4,483.3 1127.5,483.3 1127.5,489.2 1130.1,489.2 1130.1,485.3 1132.6,485.3 1132.6,485.3 1133.8,485.3 1133.8,478.1 1136.4,478.1 1136.4,479.4 1138.9,479.4 1138.9,480.1 1141.1,480.1 1141.1,489.6 1143.7,489.6 1143.7,491.2 1146.2,491.2 1146.2,488.5 1148.8,488.5 1148.8,491.2 1151.3,491.2 1151.3,486.0 1153.9,486.0 1153.9,486.8 1156.4,486.8 1156.4,488.7 1159.0,488.7 1159.0,487.2 1161.5,487.2 1161.5,489.9 1164.1,489.9 1164.1,489.3 1165.2,489.3 1165.2,460.3 1167.8,460.3 1167.8,462.3 1169.4,462.3 1169.4,478.4 1172.0,478.4 1172.0,476.9 1173.6,476.9 1173.6,489.9 1176.2,489.9 1176.2,491.6 1178.7,491.6 1178.7,491.6 1181.3,491.6 1181.3,488.8 1183.8,488.8 1183.8,491.6 1186.4,491.6 1186.4,491.6 1188.9,491.6 1188.9,490.7 1191.5,490.7 1191.5,491.0 1194.0,491.0 1194.0,488.8 1196.6,488.8 1196.6,490.8 1199.1,490.8 1199.1,490.6 1201.7,490.6 1201.7,491.2 1204.2,491.2 1204.2,487.8 1206.8,487.8 1206.8,491.6 1209.3,491.6 1209.3,490.7 1211.9,490.7 1211.9,490.0 1214.4,490.0 1214.4,491.6 1217.0,491.6 1217.0,491.0 1219.5,491.0 1219.5,490.5 1222.1,490.5 1222.1,491.6 1224.6,491.6 1224.6,488.0 1227.2,488.0 1227.2,490.8 1229.7,490.8 1229.7,490.1 1232.3,490.1 1232.3,491.6 1233.3,491.6 1233.3,491.6 1235.9,491.6 1235.9,490.3 1238.4,490.3 1238.4,491.5 1241.0,491.5 1241.0,489.4 1243.5,489.4 1243.5,491.2 1246.1,491.2 1246.1,491.6 1248.6,491.6 1248.6,491.6 1249.0,491.6 1249.0,486.3 1251.6,486.3 1251.6,485.3 1254.1,485.3 1254.1,484.6 1256.7,484.6 1256.7,487.1 1259.2,487.1 1259.2,489.0 1261.8,489.0 1261.8,484.2 1264.3,484.2 1264.3,488.1 1266.9,488.1 1266.9,483.5 1269.4,483.5 1269.4,484.6 1270.0,484.6 1270.0,482.7 1272.5,482.7 1272.5,485.4 1273.1,485.4 1273.1,489.0 1275.7,489.0 1275.7,489.2 1278.2,489.2 1278.2,490.8 1280.8,490.8 1280.8,487.7 1283.3,487.7 1283.3,491.5 1285.9,491.5 1285.9,487.8 1288.4,487.8 1288.4,490.1 1291.0,490.1 1291.0,491.2 1293.5,491.2 1293.5,490.9 1296.1,490.9 1296.1,491.6 1298.6,491.6 1298.6,491.6 1301.2,491.6 1301.2,491.6 1303.7,491.6 1303.7,491.6 1306.3,491.6 1306.3,491.6 1308.8,491.6 1308.8,490.6 1311.4,490.6 1311.4,490.9 1313.9,490.9 1313.9,491.6 1316.5,491.6 1316.5,491.6 1319.0,491.6 1319.0,491.6 1321.6,491.6 1321.6,491.6 1324.1,491.6 1324.1,491.6 1326.7,491.6 1326.7,491.6 1329.2,491.6 1329.2,491.1 1331.8,491.1 1331.8,491.6 1334.3,491.6 1334.3,491.6 1336.9,491.6 1336.9,491.6 1339.4,491.6 1339.4,491.6 1342.0,491.6 1342.0,491.6 1344.5,491.6 1344.5,491.6 1347.1,491.6 1347.1,491.0 1349.6,491.0 1349.6,491.6 1352.2,491.6 1352.2,491.6 1354.7,491.6 1354.7,490.5 1357.3,490.5 1357.3,491.1 1359.8,491.1 1359.8,491.6 1362.4,491.6 1362.4,491.2 1364.9,491.2 1364.9,490.3 1367.5,490.3 1367.5,491.6 1370.0,491.6 1370.0,491.6 1372.6,491.6 1372.6,491.6 1375.1,491.6 1375.1,490.4 1377.7,490.4 1377.7,491.6 1380.2,491.6 1380.2,491.6 1382.8,491.6 1382.8,489.8 1385.2,489.8 1385.2,487.8 1387.8,487.8 1387.8,490.6 1390.3,490.6 1390.3,491.6 1392.9,491.6 1392.9,491.6 1395.4,491.6 1395.4,487.2 1398.0,487.2 1398.0,489.6 1400.5,489.6 1400.5,491.1 1401.0,491.1 1401.0,491.6 1403.5,491.6 1403.5,491.6 1406.0,491.6 1406.0,490.8 1408.6,490.8 1408.6,490.1 1411.1,490.1 1411.1,490.3 1411.4,490.3 1411.4,486.8 1414.0,486.8 1414.0,489.9 1416.5,489.9 1416.5,489.6 1419.1,489.6 1419.1,490.0 1421.6,490.0 1421.6,487.4 1421.9,487.4 1421.9,490.8 1424.5,490.8 1424.5,490.9 1427.0,490.9 1427.0,491.6 1429.6,491.6 1429.6,491.6 1432.1,491.6 1432.1,491.6 1432.4,491.6 1432.4,488.2 1434.9,488.2 1434.9,488.0 1437.5,488.0 1437.5,491.6 1440.0,491.6 1440.0,490.4 1442.6,490.4 1442.6,491.6 1445.1,491.6 1445.1,489.6 1447.7,489.6 1447.7,490.4 1450.2,490.4 1450.2,490.7 1452.8,490.7 1452.8,490.2 1455.3,490.2 1455.3,491.2 1457.9,491.2 1457.9,487.7 1460.4,487.7 1460.4,491.6 1463.0,491.6 1463.0,491.6 1465.5,491.6 1465.5,488.7 1468.1,488.7 1468.1,490.3 1469.0,490.3 1469.0,491.6 1471.6,491.6 1471.6,491.6 1474.1,491.6 1474.1,490.3 1476.7,490.3 1476.7,490.2 1479.2,490.2 1479.2,491.6 1481.8,491.6 1481.8,489.3 1484.3,489.3 1484.3,491.6 1486.9,491.6 1486.9,491.6 1489.4,491.6 1489.4,491.6 1490.0,491.6 1490.0,491.6 1492.5,491.6 1492.5,491.6 1495.1,491.6 1495.1,491.6 1497.6,491.6 1497.6,491.6 1500.2,491.6 1500.2,491.6 1502.7,491.6 1502.7,491.6 1505.3,491.6 1505.3,491.6 1507.8,491.6 1507.8,491.2 1510.4,491.2 1510.4,491.6 1512.9,491.6 1512.9,491.6 1515.5,491.6 1515.5,491.6 1518.0,491.6 1518.0,491.6 1520.6,491.6 1520.6,491.6 1523.1,491.6 1523.1,491.6 1525.7,491.6 1525.7,491.6 1528.2,491.6 1528.2,491.6 1530.8,491.6 1530.8,491.6 1533.3,491.6 1533.3,491.6 1535.9,491.6 1535.9,491.6 1538.4,491.6 1538.4,491.6 1541.0,491.6 1541.0,490.1 1543.5,490.1 1543.5,491.6 1546.1,491.6 1546.1,491.6 1548.6,491.6 1548.6,489.8 1551.2,489.8 1551.2,491.6 1553.7,491.6 1553.7,491.6 1556.3,491.6 1556.3,491.6 1558.8,491.6 1558.8,491.1 1561.4,491.1 1561.4,491.6 1563.9,491.6 1563.9,491.6 1566.5,491.6 1566.5,491.6 1569.0,491.6 1569.0,491.6 1571.6,491.6 1571.6,491.6 1574.1,491.6 1574.1,491.6 1576.7,491.6 1576.7,491.6 1579.2,491.6 1579.2,491.6 1581.8,491.6 1581.8,491.6 1584.3,491.6 1584.3,491.6 1586.9,491.6 1586.9,491.6 1589.4,491.6 1589.4,491.6 1592.0,491.6 1592.0,489.8 1594.5,489.8 1594.5,491.6 1597.1,491.6 1597.1,491.6 1599.6,491.6 1599.6,491.2 1602.2,491.2 1602.2,491.6 1603.1,491.6 1603.1,486.8 1605.7,486.8 1605.7,487.7 1608.2,487.7 1608.2,488.8 1610.8,488.8 1610.8,487.1 1613.3,487.1 1613.3,488.1 1613.6,488.1 1613.6,491.6 1616.2,491.6 1616.2,491.6 1618.7,491.6 1618.7,491.6 1621.3,491.6 1621.3,491.6 1623.8,491.6 1623.8,491.6 1626.4,491.6 1626.4,491.6 1628.9,491.6 1628.9,491.6 1631.5,491.6 1631.5,491.6 1634.0,491.6 1634.0,490.1 1636.6,490.1 1636.6,491.6 1639.1,491.6 1639.1,491.6 1641.7,491.6 1641.7,490.0 1644.2,490.0 1644.2,491.6 1646.8,491.6 1646.8,490.6 1649.3,490.6 1649.3,491.6 1651.9,491.6 1651.9,490.7 1654.4,490.7 1654.4,491.6 1657.0,491.6 1657.0,491.6 1657.6,491.6 1657.6,490.6 1660.2,490.6 1660.2,491.6 1662.7,491.6 1662.7,491.6 1665.3,491.6 1665.3,491.6 1667.8,491.6 1667.8,491.6 1670.4,491.6 1670.4,491.6 1672.9,491.6 1672.9,491.6 1675.5,491.6 1675.5,491.6 1678.0,491.6 1678.0,491.6 1680.6,491.6 1680.6,491.6 1683.1,491.6 1683.1,491.6 1685.7,491.6 1685.7,491.6 1688.2,491.6 1688.2,490.3 1690.8,490.3 1690.8,491.6 1693.3,491.6 1693.3,490.5 1695.9,490.5 1695.9,491.2 1698.4,491.2 1698.4,491.6 1701.0,491.6 1701.0,491.6 1701.0,491.6 1701.0,498.1" fill="#000"/>
<rect x="395.8" y="497.6" width="1305.2" height="2.6" fill="#909090"/>
</g>
<g filter="url(#bl)"><path d="M383 729H202V1164.5H383.5M202 946.5H40.5V1598.5H383.5" fill="none" stroke="#6a6a6a" stroke-width="3"/></g>
<g filter="url(#sh)">
<path d="M403.7 120.0L1722.8 120.0M428.7 134.5L399.7 120.0L428.7 105.5M1697.8 134.5L1726.8 120.0L1697.8 105.5" fill="none" stroke="#3F83C0" stroke-width="6.8" stroke-linejoin="miter" stroke-linecap="butt"/>
<path d="M1742.2 525.7L1742.2 918.5M1727.7 550.7L1742.2 521.7L1756.7 550.7M1727.7 893.5L1742.2 922.5L1756.7 893.5" fill="none" stroke="#3F83C0" stroke-width="6.8" stroke-linejoin="miter" stroke-linecap="butt"/>
<path d="M1742.2 965.7L1742.2 1357.5M1727.7 990.7L1742.2 961.7L1756.7 990.7M1727.7 1332.5L1742.2 1361.5L1756.7 1332.5" fill="none" stroke="#3F83C0" stroke-width="6.8" stroke-linejoin="miter" stroke-linecap="butt"/>
<path d="M1742.2 1403.2L1742.2 1796.5M1727.7 1428.2L1742.2 1399.2L1756.7 1428.2M1727.7 1771.5L1742.2 1800.5L1756.7 1771.5" fill="none" stroke="#3F83C0" stroke-width="6.8" stroke-linejoin="miter" stroke-linecap="butt"/>
</g>
<g filter="url(#tb)">
<text class="t" transform="translate(813.3 91) scale(1 1.03)" x="0" y="0" font-size="73.8">1446 GO terms</text>
<text class="t" x="1770.5" y="762" font-size="56.8">Clear cell ca</text>
<text class="t" x="1770.5" y="1162.5" font-size="56.8">Endometrioid ca</text>
<text class="t" x="1770.5" y="1607.5" font-size="56.8">Endometriosi<tspan x="1770.5" y="1676">s</tspan></text>
</g>
</svg>
</body></html>
